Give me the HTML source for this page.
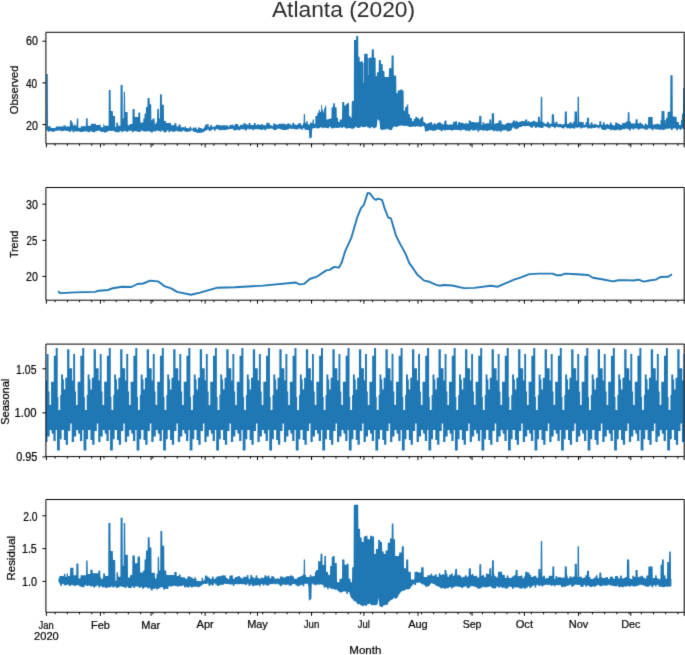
<!DOCTYPE html><html><head><meta charset="utf-8"><style>html,body{margin:0;padding:0;background:#fff;}svg{display:block}text{font-family:"Liberation Sans",sans-serif;fill:#000}.tx{opacity:0.999;will-change:opacity}.tx text{stroke:#000;stroke-width:0.22px}</style></head><body>
<svg width="685" height="655" viewBox="0 0 685 655">
<defs>
<filter id="bl" color-interpolation-filters="sRGB" filterUnits="userSpaceOnUse" x="0" y="0" width="685" height="655"><feConvolveMatrix order="3" kernelMatrix="0.0113 0.0835 0.0113 0.0835 0.619 0.0835 0.0113 0.0835 0.0113" edgeMode="duplicate"/></filter>
<clipPath id="c0"><rect x="45.9" y="32.3" width="638.3" height="111.5"/></clipPath>
<clipPath id="c1"><rect x="45.9" y="187.5" width="638.3" height="112.7"/></clipPath>
<clipPath id="c2"><rect x="45.9" y="344.1" width="638.3" height="112.5"/></clipPath>
<clipPath id="c3"><rect x="45.9" y="499.5" width="638.3" height="112.8"/></clipPath>
</defs>
<g filter="url(#bl)">
<rect width="685" height="655" fill="#fff"/>
<g clip-path="url(#c0)">
<polygon points="46.4,73.9 47.8,73.9 48,126.2 50.6,126.2 50.8,128 55.6,128 55.8,126.5 63.2,126.5 63.4,125.36 63.8,125.36 64,127.95 64.2,125.3 65.6,125.3 65.8,126.6 69.8,126.6 70,120.3 71.6,120.3 71.8,122.4 72.8,122.4 73,125.8 74,125.8 74.2,124.5 75.4,124.5 75.6,125.8 76.6,125.8 76.8,118.6 78.2,118.6 78.4,127.8 80.8,127.8 81,126.2 85.8,126.2 86,118.2 87.6,118.2 87.8,125.8 90.8,125.8 91,123.7 95.8,123.7 96,124.9 99.8,124.9 100,124.5 100.6,124.5 100.8,127.3 103.2,127.3 103.4,123.7 104,123.7 104.2,125.8 108.6,125.8 108.8,90.1 110.6,90.1 110.8,111.1 112.8,111.1 113,116.1 115,116.1 115.2,127 116.2,127 116.4,122.4 118,122.4 118.2,125.8 120.4,125.8 120.6,85 122.6,85 122.8,118.6 123.6,118.6 123.8,91.8 125,91.8 125.2,111.9 127.6,111.9 127.8,125.3 129.6,125.3 129.8,124 132.4,124 132.6,109 134.6,109 134.8,117 138.2,117 138.4,112.5 140.2,112.5 140.4,122.4 143.2,122.4 143.4,118.6 144.4,118.6 144.6,113.6 145.8,113.6 146,106.9 147.4,106.9 147.6,98.1 149.6,98.1 149.8,104.3 151.2,104.3 151.4,120.3 152.4,120.3 152.6,118.6 154.6,118.6 154.8,123.7 156.2,123.7 156.4,122 157,122 157.2,109 158.8,109 159,118.6 159.8,118.6 160,94.3 161.8,94.3 162,104.8 163.8,104.8 164,121.1 165.8,121.1 166,123 171,123 171.2,125.3 174.2,125.3 174.4,123.2 176.4,123.2 176.6,126.6 178.4,126.6 178.6,124.5 180.6,124.5 180.8,127.2 184.8,127.2 185,126.13 185.8,126.13 186,128 187.6,128 187.8,128.33 189.4,128.33 189.6,126.72 191,126.72 191.2,128.39 192,128.39 192.2,128.59 192.4,128.79 192.6,128.99 192.8,129.19 193,127.05 193.2,127.25 193.4,127.45 193.6,127.65 193.8,127.85 194,128.05 194.6,128.09 194.8,127.31 196.4,127.4 196.6,129.18 198,129.26 198.2,127.34 199.8,127.43 200,128 201.6,128.09 201.8,128.82 203,128.89 203.2,128.56 203.4,128.23 203.6,128.59 203.8,128.26 204,127.93 204.2,127.6 204.4,127.27 204.6,126.94 204.8,126.61 205,126.28 205.2,124.72 206.8,124.61 207,124.2 208.6,124.09 208.8,126.88 210.2,126.79 210.4,124.89 212,124.78 212.2,126.96 213.8,126.84 214,126.62 215.6,126.54 215.8,124.77 217.2,124.74 217.4,125.02 219,124.99 219.2,125.18 220.8,125.15 221,125.57 222.4,125.54 222.6,125.37 224.2,125.34 224.4,125.21 226,125.18 226.2,125.38 227.8,125.35 228,126.44 229.4,126.41 229.6,124.93 231.2,124.9 231.4,124.64 233,124.61 233.2,125.59 234.8,125.55 235,123.91 236.4,123.88 236.6,124.09 238.2,124.06 238.4,126.36 240,126.32 240.2,124.77 241.6,124.74 241.8,124.83 243.4,124.8 243.6,122.97 245.2,122.93 245.4,124.3 247,124.27 247.2,124.83 248.6,124.8 248.8,122.89 250.4,122.87 250.6,124.89 252.2,124.88 252.4,124.94 253.8,124.93 254,122.98 255.6,122.97 255.8,124.9 257.4,124.89 257.6,124.34 259.2,124.33 259.4,125.05 260.8,125.04 261,123.93 262.6,123.92 262.8,125.13 264.4,125.12 264.6,125.22 266.2,125.21 266.4,122.78 267.8,122.77 268,122.9 269.6,122.89 269.8,124.98 271.4,124.97 271.6,125.95 273,125.94 273.2,123.51 274.8,123.51 275,124.2 276.6,124.19 276.8,124.65 278.4,124.64 278.6,123.72 280,123.71 280.2,123.86 281.8,123.85 282,123.67 283.6,123.66 283.8,123.85 285.2,123.84 285.4,124.61 287,124.6 287.2,123.6 288.8,123.59 289,123.85 290.6,123.84 290.8,125.18 292.2,125.17 292.4,122.64 294,122.63 294.2,124.47 295.8,124.46 296,125.02 297.6,125.01 297.8,123.57 299.2,123.56 299.4,123.26 301,123.22 301.2,125.19 302.8,125.13 303,123.2 303.6,123.18 303.8,113.9 305,113.9 305.2,122.95 306.2,122.92 306.4,121 307.6,121 307.8,123.7 308,123.69 308.2,124.58 309.8,124.52 310,122.49 311.4,122.44 311.6,123.18 312.4,123.15 312.6,119.5 313.8,119.5 314,124 315.2,124 315.4,116 317.2,116 317.4,113 318.6,113 318.8,109.8 319.8,109.8 320,112 321,112 321.2,105.1 322,105.1 322.2,110 323.2,110 323.4,112.5 324,112.5 324.2,108 325,108 325.2,105.8 326.2,105.8 326.4,119.5 328,119.5 328.2,119 329.8,119 330,118.6 331.4,118.6 331.6,107.2 333,107.2 333.2,103.3 334.8,103.3 335,107.2 336.6,107.2 336.8,117.7 338,117.7 338.2,122.1 339.6,122.1 339.8,119.5 342,119.5 342.2,102 342.8,102 343,101.9 344.2,101.9 344.4,105.4 346,105.4 346.2,103.7 347.6,103.7 347.8,102.8 349,102.8 349.2,116 350.4,116 350.6,117.7 351.6,117.7 351.8,101 353.8,101 354,40 356,40 356.2,36 358.2,36 358.4,56.8 359.6,56.8 359.8,62 360.8,62 361,61.2 362.6,61.2 362.8,63 364,63 364.2,53.7 367.6,53.7 367.8,58 368.8,58 369,57.7 371.6,57.7 371.8,49.3 373.8,49.3 374,57.7 375.6,57.7 375.8,76.2 376.8,76.2 377,72.3 378.6,72.3 378.8,59.9 380.8,59.9 381,63.9 382.6,63.9 382.8,70.9 384.4,70.9 384.6,77.1 388.8,77.1 389,68.3 391.4,68.3 391.6,55.5 393.6,55.5 393.8,75.4 395.8,75.4 396,76.5 396.2,76.5 396.4,93.2 397.6,93.2 397.8,90.5 399.2,90.5 399.4,90 400.6,90 400.8,89.6 402.2,89.6 402.4,90.5 403.6,90.5 403.8,110.7 405,110.7 405.2,107 406.6,107 406.8,104.6 408.2,104.6 408.4,114.2 410,114.2 410.2,118 411.8,118 412,121.2 413.6,121.2 413.8,119 415.2,119 415.4,116.8 417,116.8 417.2,118 418.8,118 419,119.5 420.2,119.5 420.4,118 421.6,118 421.8,116.8 423.2,116.8 423.4,122.1 424.8,122.1 425,123 426,123 426.2,123.9 427.6,123.9 427.8,123 429.2,123 429.4,122.5 431,122.5 431.2,122.1 432,122.1 432.2,124.43 433.6,124.45 433.8,123.14 435.4,123.16 435.6,124.2 437,124.21 437.2,122.75 438.8,122.77 439,122.24 440.6,122.26 440.8,123.41 442.4,123.43 442.6,124.39 444,124.4 444.2,122.21 444.4,122.21 444.6,120.4 446.4,120.4 446.6,124.34 447.6,124.35 447.8,124.8 449.2,124.81 449.4,124.42 451,124.44 451.2,124.5 452.8,124.52 453,121.74 454.6,121.76 454.8,123.87 455,121.2 457,121.2 457.2,124.7 458,124.7 458.2,121.94 459.8,121.96 460,122.71 463.2,122.74 463.4,123.62 465,123.64 465.2,123.28 466.8,123.3 467,123.47 468.4,123.49 468.6,124.52 468.8,120.4 470.8,120.4 471,121.91 472,121.92 472.2,122.11 473.8,122.12 474,122.37 477.2,122.39 477.4,122.21 479,122.22 479.2,116 481.4,116 481.6,124.93 482.4,124.94 482.6,122.33 484.2,122.36 484.4,123.78 486,123.8 486.2,123.17 489.2,123.22 489.4,119.5 491.2,119.5 491.4,124.38 491.6,124.39 491.8,113.3 494,113.3 494.2,124.22 494.6,124.23 494.8,123.47 496.4,123.49 496.6,122.92 498.2,122.94 498.4,123.41 498.6,120.4 501.4,120.4 501.6,122.77 501.8,124.24 503.4,124.27 503.6,124.82 505.2,124.84 505.4,123.7 506.8,123.73 507,122.71 508.6,122.73 508.8,123.07 510.4,123.1 510.6,123.76 511,123.77 511.2,123.47 511.4,123.17 511.6,122.87 511.8,122.57 512,122.27 512.2,122.76 512.4,122.46 512.6,122.16 512.8,121.86 513,120.4 515,120.4 515.2,122.2 515.6,122.21 515.8,120.84 517.4,120.87 517.6,122.31 519,122.34 519.2,121.73 520.8,121.76 521,121.12 522.6,121.15 522.8,120.95 524.2,120.97 524.4,121.4 525,121.41 525.2,119.5 527.2,119.5 527.4,122.16 527.8,122.16 528,121.21 529.6,121.24 529.8,122.17 531.2,122.2 531.4,121.41 533,121.44 533.2,120.71 534.8,120.74 535,121.73 536.6,121.76 536.8,122.3 537.8,122.32 538,116.8 539.8,116.8 540,120.24 540.2,121.46 540.6,121.49 540.8,96.7 542.2,96.7 542.4,121.63 543.4,121.7 543.6,123.26 545.2,123.38 545.4,123.59 547,123.71 547.2,121.81 548.8,121.93 549,123.73 550.4,123.83 550.6,123.48 551.6,123.56 551.8,114.2 554,114.2 554.2,122.64 555.6,122.75 555.8,121.6 557.4,121.72 557.6,124.08 559.2,124.2 559.4,123.71 561,123.76 561.2,124.53 562.6,124.54 562.8,124.22 564.4,124.23 564.6,123.8 564.8,111.6 566.8,111.6 567,124.05 568,124.05 568.2,123.48 569.6,123.49 569.8,121.92 571.4,121.94 571.6,123.59 573.2,123.6 573.4,121.62 574.4,121.62 574.6,111.6 577,111.6 577.2,124.26 577.4,124.26 577.6,96.7 579,96.7 579.2,121.79 580.2,121.8 580.4,121.97 583.6,122.01 583.8,124.67 585.4,124.68 585.6,122.3 586.8,122.31 587,117.7 589,117.7 589.2,124.58 590.6,124.59 590.8,122.14 592.4,122.16 592.6,124.61 594,124.62 594.2,124.05 595.8,124.06 596,124.61 597.6,124.63 597.8,125.02 599.2,125.03 599.4,121.2 601.2,121.2 601.4,124.63 602.8,124.74 603,122.16 604.6,122.29 604.8,124.79 606.2,124.81 606.4,123.94 608,123.94 608.2,124.63 609.8,124.63 610,122.56 611.6,122.56 611.8,124.75 613.2,124.75 613.4,125.38 615,125.38 615.2,122.41 616.8,122.41 617,123.3 618.4,123.3 618.6,124.12 620.2,124.12 620.4,125.02 622,125.02 622.2,123.02 623.8,123.02 624,122.81 625.4,122.81 625.6,123.05 625.8,123.05 626,121.6 627.6,121.6 627.8,112.3 629.4,112.3 629.6,121.6 630.8,121.6 631,123.54 632.4,123.54 632.6,123.45 634.2,123.45 634.4,123.55 635.4,123.55 635.6,119.6 635.8,119.6 636,119.3 637.6,119.3 637.8,123.62 639.4,123.62 639.6,122.48 641.2,122.48 641.4,123.9 643,123.9 643.2,125.51 644.6,125.51 644.8,123.6 646.4,123.6 646.6,124.74 648,124.74 648.2,117 652.6,117 652.8,124.77 653.4,124.77 653.6,124.49 655.2,124.49 655.4,123.96 656.8,123.96 657,123.84 658.6,123.84 658.8,124.39 660.4,124.39 660.6,119.9 661.4,119.9 661.6,111 664.4,111 664.6,119.9 665.6,119.9 665.8,124.74 666,118 667.4,118 667.6,111.7 670.2,111.7 670.4,75.3 672.6,75.3 672.8,116.4 674.8,116.4 675,117 676.6,117 676.8,122 678.8,122 679,125 680.8,125 681,120 681.8,120 682,113.4 683,113.4 683.2,88 684.6,88 684.8,122.99 684.8,129.18 683.2,129.19 683,128.39 681.4,128.4 681.2,130.09 679.8,130.1 679.6,128.64 678,128.65 677.8,130.26 676.2,130.26 676,128.29 674.6,128.29 674.4,128.48 672.8,128.48 672.6,129.98 671,129.99 670.8,128.42 669.2,128.43 669,128.63 665.8,128.67 665.6,129.4 664,129.4 663.8,129.94 662.4,129.94 662.2,129.55 660.6,129.56 660.4,129.93 658.8,129.94 658.6,129.18 657,129.18 656.8,129.49 655.4,129.49 655.2,128.77 653.6,128.78 653.4,130.35 651.8,130.35 651.6,128.81 650,128.81 649.8,128.35 648.4,128.36 648.2,129.56 646.6,129.57 646.4,129.69 644.8,129.7 644.6,128.67 643.2,128.67 643,128.46 641.4,128.46 641.2,128.87 639.6,128.87 639.4,129.73 637.8,129.74 637.6,128.54 636.2,128.55 636,128.61 634.4,128.62 634.2,129.58 632.6,129.59 632.4,128.61 631,128.62 630.8,130.4 629.2,130.41 629,129.24 627.4,129.25 627.2,128.56 625.6,128.57 625.4,129.19 624,129.2 623.8,129.12 622.2,129.13 622,129.97 620.4,129.97 620.2,130.32 618.6,130.32 618.4,129.39 617,129.39 616.8,130.28 613.4,130.3 613.2,129.81 611.8,129.81 611.6,130.24 610,130.24 609.8,128.97 608.2,128.98 608,128.68 606.4,128.69 606.2,129.91 604.8,129.91 604.6,130.08 603,130.09 602.8,129.48 602,129.48 601.8,129.33 601.6,129.18 601.4,129.03 601.2,128.88 601,127.8 600.8,127.65 600.6,127.5 600.4,127.35 600.2,127.2 600,127.05 599.6,127.04 599.4,128.49 597.8,128.47 597.6,127.3 596,127.28 595.8,127.98 594.2,127.96 594,127.75 592.6,127.74 592.4,128.42 590.8,128.4 590.6,128.18 589,128.16 588.8,128.4 587.2,128.39 587,127.23 585.6,127.21 585.4,127.42 583.8,127.4 583.6,127.85 582,127.83 581.8,128.45 580.4,128.44 580.2,127.28 578.6,127.27 578.4,127.65 576.8,127.64 576.6,127.53 575,127.51 574.8,128.69 573.4,128.67 573.2,127.89 571.6,127.88 571.4,128.47 569.8,128.45 569.6,128.24 566.4,128.22 566.2,127.03 564.6,127.01 564.4,128.59 562.8,128.58 562.6,128.05 561.2,128.04 561,127.31 559.4,127.28 559.2,127.39 557.6,127.33 557.4,126.75 555.8,126.69 555.6,128.23 554.2,128.18 554,127.01 552.4,126.95 552.2,126.51 550.6,126.46 550.4,128.25 549,128.2 548.8,127.48 547.2,127.43 547,126.78 545.4,126.73 545.2,126.15 543.6,126.1 543.4,127.99 542,127.94 541.8,127.89 540.2,127.83 540,127.59 538.4,127.59 538.2,126.9 536.8,126.9 536.6,127.95 535,127.95 534.8,126.32 533.2,126.32 533,127.79 531.4,127.79 531.2,127.27 529.8,127.27 529.6,126.01 526.2,125.98 526,126.26 524.4,126.26 524.2,126.09 523,126.09 522.8,126.21 522.6,126.2 522.4,126.32 522.2,126.44 522,126.56 521.8,126.68 521.6,126.8 521.4,126.92 521.2,127.04 521,127.16 520.8,127.11 519.2,127.11 519,128.34 517.6,128.34 517.4,129.14 515.8,129.14 515.6,128.53 514,128.53 513.8,127.3 513,127.3 512.8,127.57 512.6,127.84 512.4,128.11 512.2,128.38 512,129.17 511.8,129.44 511.6,129.71 511.4,129.98 511.2,130.25 511,130.52 510.6,130.52 510.4,131.12 508.8,131.12 508.6,131.51 507,131.51 506.8,130.36 503.6,130.32 503.4,130.43 501.8,130.43 501.6,131.76 500,131.76 499.8,130.78 498.4,130.78 498.2,131.45 496.6,131.45 496.4,130.38 494.8,130.38 494.6,131.33 493,131.33 492.8,129.91 491.4,129.91 491.2,130.06 489.6,130.06 489.4,130.53 487.8,130.53 487.6,131.11 486.2,131.11 486,130.15 484.4,130.15 484.2,130.8 482.6,130.8 482.4,130 480.8,130 480.6,130.26 479.2,130.26 479,131.82 477.4,131.81 477.2,129.84 475.6,129.83 475.4,130.61 472.2,130.6 472,129.86 470.4,129.85 470.2,131.22 468.6,131.22 468.4,130.59 467,130.59 466.8,130.67 465.2,130.66 465,129.77 463.4,129.76 463.2,129.83 461.6,129.83 461.4,130.73 460,130.72 459.8,130.04 458.2,130.03 458,129.91 456.4,129.9 456.2,129.73 454.8,129.72 454.6,130.01 453,130.01 452.8,130.5 451.2,130.49 451,130 449.4,129.99 449.2,130.07 446,130.02 445.8,130.58 444.2,130.57 444,129.9 442.6,129.9 442.4,131.24 440.8,131.23 440.6,130.02 439,130.02 438.8,129.58 437.2,129.57 437,130.04 435.6,130.03 435.4,130.81 433.8,130.8 433.6,130.66 432,130.65 431.8,130.32 428.6,130.29 428.4,131.03 426.8,131.02 426.6,131.4 425,131.39 424.8,129.08 424.6,128.28 424.4,127.48 424.2,126.68 424,125.88 423.4,125.88 423.2,126.34 421.6,126.34 421.4,127.09 419.8,127.09 419.6,126.48 418,126.48 417.8,126.14 416.4,126.14 416.2,126.86 414.6,126.86 414.4,126.39 412.8,126.39 412.6,126.63 411.2,126.63 411,126.97 409.4,126.97 409.2,126.54 407.6,126.54 407.4,125.84 405.8,125.84 405.6,125.92 404.2,125.92 404,125.66 402.4,125.66 402.2,125.59 400.6,125.59 400.4,125.73 398.8,125.73 398.6,126.52 397.2,126.52 397,127.09 395.4,127.09 395.2,126.42 393.6,126.42 393.4,127.31 393,127.31 392.8,127.81 392.6,128.31 392.4,128.81 392.2,129.31 392,129.81 391.8,129.96 390.2,129.96 390,129.69 388.4,129.69 388.2,128.72 386.6,128.72 386.4,129.55 383.2,129.5 383,129.95 381.4,129.95 381.2,129.26 380.2,129.26 380,126.89 379.8,124.51 379.6,122.14 379.4,120.3 378,120.3 377.8,118.78 377.6,118.78 377.4,120.76 377.2,122.73 377,124.71 376.8,126.68 376.2,126.68 376,127.86 374.4,127.86 374.2,128.23 372.8,128.23 372.6,127.08 371,127.08 370.8,128.35 369.2,128.35 369,127.53 367.4,127.53 367.2,126.56 365.8,126.56 365.6,126.89 364,126.89 363.8,127.16 362.2,127.16 362,126.51 360.6,126.51 360.4,127.71 358.8,127.71 358.6,128.06 357,128.06 356.8,126.68 355.2,126.68 355,128.27 353.6,128.27 353.4,128.41 353,128.41 352.8,128.57 352.6,128.73 352.4,128.89 352.2,129.05 352,129.21 351.8,129.21 351.6,128.38 350,128.34 349.8,128.08 348.2,128.05 348,128.47 346.6,128.44 346.4,128.13 344.8,128.09 344.6,127.11 343,127.08 342.8,128.11 341.4,128.08 341.2,127.37 339.6,127.33 339.4,127.89 337.8,127.85 337.6,127.98 336,127.94 335.8,127.87 334.4,127.84 334.2,128.19 332.6,128.16 332.4,128.38 330.8,128.35 330.6,126.73 329.2,126.7 329,128.22 327.4,128.18 327.2,127.91 325.6,127.88 325.4,127.63 323.8,127.59 323.6,128.37 322.2,128.34 322,127.16 320.4,127.13 320.2,127.94 318.6,127.9 318.4,128.5 316.8,128.47 316.6,127.74 316,127.73 315.8,127.79 315.6,127.84 315.4,127.9 315.2,127.96 315,127.91 314.8,127.96 314.6,128.02 314.4,128.08 314.2,128.13 314,128.19 313.8,128.24 313.6,128.3 313.4,128.36 313.2,128.35 313,128.41 312.8,128.46 312.6,128.52 312.4,128.58 312.2,128.63 312,131.79 311.8,138.06 311.6,138.06 311.4,137.7 310,137.7 309.8,138.89 309.4,138.89 309.2,135.93 309,129.99 308.2,130.01 308,129.89 306.4,129.93 306.2,129.75 304.6,129.78 304.4,128.17 303,128.2 302.8,129.78 301.2,129.81 301,128.7 299.4,128.73 299.2,128.63 297.8,128.64 297.6,129.41 296,129.42 295.8,129.34 294.2,129.35 294,128.65 292.4,128.66 292.2,129.09 290.8,129.1 290.6,128.57 289,128.59 288.8,129.52 287.2,129.53 287,129.86 285.4,129.88 285.2,130.02 283.8,130.03 283.6,129.88 282,129.89 281.8,129.2 280.2,129.21 280,128.74 276.8,128.75 276.6,129.89 275,129.9 274.8,130.01 273.2,130.03 273,128.63 269.8,128.62 269.6,128.98 268,128.99 267.8,128.66 266.4,128.67 266.2,130.22 264.6,130.23 264.4,129.19 262.8,129.2 262.6,130.08 261,130.1 260.8,129.61 259.4,129.62 259.2,129.34 257.6,129.35 257.4,129.2 254,129.27 253.8,130.14 252.4,130.15 252.2,129.06 250.6,129.07 250.4,129.61 248.8,129.62 248.6,128.65 247.2,128.66 247,130.41 245.4,130.42 245.2,129.39 243.6,129.4 243.4,129.16 241.8,129.17 241.6,129.37 240.2,129.38 240,130.18 238.4,130.19 238.2,129.78 236.6,129.79 236.4,130.23 235,130.24 234.8,130.16 233.2,130.17 233,128.82 231.4,128.83 231.2,129.06 229.6,129.07 229.4,129.35 228,129.36 227.8,129.67 226.2,129.68 226,130.08 224.4,130.09 224.2,129.9 222.6,129.91 222.4,130 221,130.01 220.8,130.27 219.2,130.28 219,129.47 217.4,129.48 217.2,129.08 215.8,129.09 215.6,130.75 214,130.82 213.8,129.13 212.2,129.23 212,130.36 210.4,130.45 210.2,130.96 208.8,131.04 208.6,129.56 207,129.66 206.8,130.62 205,130.76 204.8,131 204.6,131.24 204.4,131.48 204.2,131.72 204,131.96 203.8,132.2 203.6,132.44 203.4,131.7 203.2,131.94 203,132.18 201.8,132.09 201.6,132.88 200,132.76 199.8,132.98 198.2,132.86 198,132.93 196.6,132.83 196.4,132.04 195,131.94 194.8,131.86 194.6,132.08 194.4,132 194.2,131.92 194,131.84 193.8,131.76 193.6,131.68 193.4,131.6 193.2,131.52 193,131.44 192.8,130.56 192.6,130.48 192.4,130.4 192.2,130.32 192,130.24 191.2,130.24 191,131.13 189.6,131.13 189.4,131.41 187.8,131.41 187.6,132.02 186,132.02 185.8,131.58 184.4,131.59 184.2,130.57 182.6,130.59 182.4,131.73 180.8,131.75 180.6,131.43 177.4,131.51 177.2,130.72 175.6,130.74 175.4,131.71 172.2,131.78 172,130.95 170.4,130.97 170.2,132.16 168.6,132.18 168.4,130.41 166.8,130.43 166.6,132.14 163.4,132.13 163.2,130.51 161.6,130.53 161.4,131.69 159.8,131.71 159.6,130.89 158.2,130.91 158,130.59 156.4,130.61 156.2,131.5 154.6,131.52 154.4,131.2 153,131.22 152.8,132.41 151.2,132.43 151,131.65 149.4,131.67 149.2,130.89 147.6,130.91 147.4,131.49 146,131.51 145.8,131.41 144.2,131.41 144,131.2 142.4,131.2 142.2,130.51 140.8,130.5 140.6,131.91 139,131.9 138.8,131.7 137.2,131.69 137,131.22 135.4,131.22 135.2,131.08 133.8,131.08 133.6,132.22 132,132.21 131.8,130.65 128.4,130.63 128.2,131.98 126.8,131.98 126.6,131.33 125,131.33 124.8,131.1 123.2,131.09 123,132.25 121.6,132.25 121.4,130.96 119.8,130.96 119.6,132.31 118,132.31 117.8,132.22 116.2,132.22 116,131.89 114.6,131.89 114.4,130.8 112.8,130.8 112.6,130.94 111,130.94 110.8,130.79 109.4,130.79 109.2,130.9 107.6,130.89 107.4,132.18 105.8,132.17 105.6,132.39 104,132.39 103.8,131.79 102.4,131.79 102.2,131.88 100.6,131.87 100.4,130.86 97,130.84 96.8,131.33 95.4,131.33 95.2,132.37 93.6,132.36 93.4,131.88 91.8,131.88 91.6,131.18 90.2,131.17 90,132.13 88.4,132.13 88.2,131.84 86.6,131.84 86.4,131.33 84.8,131.33 84.6,131.49 83.2,131.48 83,132.04 79.6,132.05 79.4,131.28 78,131.28 77.8,131.55 76.2,131.55 76,131.3 74.4,131.29 74.2,132.37 72.6,132.36 72.4,130.58 71,130.58 70.8,131.9 69.2,131.9 69,130.95 67.4,130.94 67.2,131.02 65.6,131.02 65.4,130.62 64,130.62 63.8,131.06 62.2,131.05 62,131.25 60.4,131.25 60.2,130.29 58.8,130.29 58.6,130.69 57,130.69 56.8,130.79 55.2,130.79 55,131.45 53.4,131.45 53.2,132.01 51.8,132.01 51.6,131.08 50,131.08 49.8,131.69 48.2,131.69 48,130.83 46.4,130.82" fill="#1f77b4"/><rect x="363" y="61" width="1" height="22" fill="#fff" opacity="0.45"/><rect x="367.9" y="58" width="0.9" height="17" fill="#fff" opacity="0.4"/>
</g>
<path d="M45.9 32.3H684.2V143.8H45.9Z" fill="none" stroke="#000" stroke-width="1"/>
<path d="M46.4 143.8v3.5M100.48 143.8v3.5M151.07 143.8v3.5M205.15 143.8v3.5M257.48 143.8v3.5M311.56 143.8v3.5M363.9 143.8v3.5M417.98 143.8v3.5M472.06 143.8v3.5M524.39 143.8v3.5M578.47 143.8v3.5M630.81 143.8v3.5M684.2 143.8v3.5M55.12 143.8v2M67.33 143.8v2M79.55 143.8v2M91.76 143.8v2M103.97 143.8v2M116.18 143.8v2M128.39 143.8v2M140.6 143.8v2M152.81 143.8v2M165.03 143.8v2M177.24 143.8v2M189.45 143.8v2M201.66 143.8v2M213.87 143.8v2M226.08 143.8v2M238.29 143.8v2M250.51 143.8v2M262.72 143.8v2M274.93 143.8v2M287.14 143.8v2M299.35 143.8v2M311.56 143.8v2M323.78 143.8v2M335.99 143.8v2M348.2 143.8v2M360.41 143.8v2M372.62 143.8v2M384.83 143.8v2M397.04 143.8v2M409.26 143.8v2M421.47 143.8v2M433.68 143.8v2M445.89 143.8v2M458.1 143.8v2M470.31 143.8v2M482.52 143.8v2M494.74 143.8v2M506.95 143.8v2M519.16 143.8v2M531.37 143.8v2M543.58 143.8v2M555.79 143.8v2M568.01 143.8v2M580.22 143.8v2M592.43 143.8v2M604.64 143.8v2M616.85 143.8v2M629.06 143.8v2M641.27 143.8v2M653.49 143.8v2M665.7 143.8v2M677.91 143.8v2" stroke="#000" stroke-width="1" fill="none"/>
<g clip-path="url(#c1)">
<polyline points="58.6,291.7 60.2,293.1 75.4,292.4 95.2,291.9 98.7,290.7 108.1,290 112.8,288.2 122.1,286.8 131.4,287 137.3,284 143.1,283.5 150.1,280.7 158.3,281.4 164.2,286.1 171.2,288.4 177,291.9 191,294.7 200,292.6 217.5,287.7 235,287.2 263.1,285.6 295.8,282.5 299.3,284.4 304,283.9 309.8,279 316.8,276.7 326.2,270.4 329.7,269.9 334.3,266.9 339,267.6 341.8,262.2 345.3,250.8 351.4,237.6 357.5,216.6 361.1,207.8 363.7,205.2 367.7,192.9 369.8,193.4 374.2,199 376,199.9 377.7,198.7 382.1,199.9 384.7,208.7 388.2,217.5 390.9,218.3 396.1,235.9 400.5,244.6 405.8,254.3 409.3,263.1 411.9,266.6 417.2,274.5 424.2,280.6 429.5,281.8 435.6,284.6 439.3,285.7 444,285 452.2,285.5 463.9,288.1 474.4,287.9 490.7,285.7 497.8,286.7 507.1,282.7 514.1,279.7 521.1,277.3 529.3,274.1 539.8,273.6 552.7,273.6 556.2,275.2 560.8,275.2 565.5,273.6 576.4,274.3 588.3,275 592.8,277.7 602,279.2 612.9,281.4 618.4,280.3 625.7,280.1 633,280.5 638.5,279.7 643.9,281.6 649.4,280.5 655.8,279.6 660.4,277 667.7,276.8 670.4,275.5 671.3,274.6" fill="none" stroke="#1f77b4" stroke-width="1.9" stroke-linejoin="round" stroke-linecap="round"/>
</g>
<path d="M45.9 187.5H684.2V300.2H45.9Z" fill="none" stroke="#000" stroke-width="1"/>
<path d="M46.4 300.2v3.5M100.48 300.2v3.5M151.07 300.2v3.5M205.15 300.2v3.5M257.48 300.2v3.5M311.56 300.2v3.5M363.9 300.2v3.5M417.98 300.2v3.5M472.06 300.2v3.5M524.39 300.2v3.5M578.47 300.2v3.5M630.81 300.2v3.5M684.2 300.2v3.5M55.12 300.2v2M67.33 300.2v2M79.55 300.2v2M91.76 300.2v2M103.97 300.2v2M116.18 300.2v2M128.39 300.2v2M140.6 300.2v2M152.81 300.2v2M165.03 300.2v2M177.24 300.2v2M189.45 300.2v2M201.66 300.2v2M213.87 300.2v2M226.08 300.2v2M238.29 300.2v2M250.51 300.2v2M262.72 300.2v2M274.93 300.2v2M287.14 300.2v2M299.35 300.2v2M311.56 300.2v2M323.78 300.2v2M335.99 300.2v2M348.2 300.2v2M360.41 300.2v2M372.62 300.2v2M384.83 300.2v2M397.04 300.2v2M409.26 300.2v2M421.47 300.2v2M433.68 300.2v2M445.89 300.2v2M458.1 300.2v2M470.31 300.2v2M482.52 300.2v2M494.74 300.2v2M506.95 300.2v2M519.16 300.2v2M531.37 300.2v2M543.58 300.2v2M555.79 300.2v2M568.01 300.2v2M580.22 300.2v2M592.43 300.2v2M604.64 300.2v2M616.85 300.2v2M629.06 300.2v2M641.27 300.2v2M653.49 300.2v2M665.7 300.2v2M677.91 300.2v2" stroke="#000" stroke-width="1" fill="none"/>
<g clip-path="url(#c2)">
<polygon points="-1.06,381.8 0.74,381.8 0.74,355.7 2.64,355.7 2.64,348 4.64,348 4.64,397 5.34,397 5.34,410 7.14,410 7.14,395 8.04,395 8.04,374.5 9.94,374.5 9.94,379.5 10.84,379.5 10.84,389.6 12.24,389.6 12.24,377.7 14.04,377.7 14.04,349.3 16.34,349.3 16.34,368.3 19.04,368.3 19.04,380.4 20.14,380.4 20.14,353.9 22.04,353.9 22.04,391.4 22.94,391.4 22.94,405 24.54,405 24.54,381.8 25.47,381.8 25.47,381.8 27.27,381.8 27.27,355.7 29.17,355.7 29.17,348 31.17,348 31.17,397 31.87,397 31.87,410 33.67,410 33.67,395 34.57,395 34.57,374.5 36.47,374.5 36.47,379.5 37.37,379.5 37.37,389.6 38.77,389.6 38.77,377.7 40.57,377.7 40.57,349.3 42.87,349.3 42.87,368.3 45.57,368.3 45.57,380.4 46.67,380.4 46.67,353.9 48.57,353.9 48.57,391.4 49.47,391.4 49.47,405 51.07,405 51.07,381.8 52,381.8 52,381.8 53.8,381.8 53.8,355.7 55.7,355.7 55.7,348 57.7,348 57.7,397 58.4,397 58.4,410 60.2,410 60.2,395 61.1,395 61.1,374.5 63,374.5 63,379.5 63.9,379.5 63.9,389.6 65.3,389.6 65.3,377.7 67.1,377.7 67.1,349.3 69.4,349.3 69.4,368.3 72.1,368.3 72.1,380.4 73.2,380.4 73.2,353.9 75.1,353.9 75.1,391.4 76,391.4 76,405 77.6,405 77.6,381.8 78.53,381.8 78.53,381.8 80.33,381.8 80.33,355.7 82.23,355.7 82.23,348 84.23,348 84.23,397 84.93,397 84.93,410 86.73,410 86.73,395 87.63,395 87.63,374.5 89.53,374.5 89.53,379.5 90.43,379.5 90.43,389.6 91.83,389.6 91.83,377.7 93.63,377.7 93.63,349.3 95.93,349.3 95.93,368.3 98.63,368.3 98.63,380.4 99.73,380.4 99.73,353.9 101.63,353.9 101.63,391.4 102.53,391.4 102.53,405 104.13,405 104.13,381.8 105.06,381.8 105.06,381.8 106.86,381.8 106.86,355.7 108.76,355.7 108.76,348 110.76,348 110.76,397 111.46,397 111.46,410 113.26,410 113.26,395 114.16,395 114.16,374.5 116.06,374.5 116.06,379.5 116.96,379.5 116.96,389.6 118.36,389.6 118.36,377.7 120.16,377.7 120.16,349.3 122.46,349.3 122.46,368.3 125.16,368.3 125.16,380.4 126.26,380.4 126.26,353.9 128.16,353.9 128.16,391.4 129.06,391.4 129.06,405 130.66,405 130.66,381.8 131.59,381.8 131.59,381.8 133.39,381.8 133.39,355.7 135.29,355.7 135.29,348 137.29,348 137.29,397 137.99,397 137.99,410 139.79,410 139.79,395 140.69,395 140.69,374.5 142.59,374.5 142.59,379.5 143.49,379.5 143.49,389.6 144.89,389.6 144.89,377.7 146.69,377.7 146.69,349.3 148.99,349.3 148.99,368.3 151.69,368.3 151.69,380.4 152.79,380.4 152.79,353.9 154.69,353.9 154.69,391.4 155.59,391.4 155.59,405 157.19,405 157.19,381.8 158.12,381.8 158.12,381.8 159.92,381.8 159.92,355.7 161.82,355.7 161.82,348 163.82,348 163.82,397 164.52,397 164.52,410 166.32,410 166.32,395 167.22,395 167.22,374.5 169.12,374.5 169.12,379.5 170.02,379.5 170.02,389.6 171.42,389.6 171.42,377.7 173.22,377.7 173.22,349.3 175.52,349.3 175.52,368.3 178.22,368.3 178.22,380.4 179.32,380.4 179.32,353.9 181.22,353.9 181.22,391.4 182.12,391.4 182.12,405 183.72,405 183.72,381.8 184.65,381.8 184.65,381.8 186.45,381.8 186.45,355.7 188.35,355.7 188.35,348 190.35,348 190.35,397 191.05,397 191.05,410 192.85,410 192.85,395 193.75,395 193.75,374.5 195.65,374.5 195.65,379.5 196.55,379.5 196.55,389.6 197.95,389.6 197.95,377.7 199.75,377.7 199.75,349.3 202.05,349.3 202.05,368.3 204.75,368.3 204.75,380.4 205.85,380.4 205.85,353.9 207.75,353.9 207.75,391.4 208.65,391.4 208.65,405 210.25,405 210.25,381.8 211.18,381.8 211.18,381.8 212.98,381.8 212.98,355.7 214.88,355.7 214.88,348 216.88,348 216.88,397 217.58,397 217.58,410 219.38,410 219.38,395 220.28,395 220.28,374.5 222.18,374.5 222.18,379.5 223.08,379.5 223.08,389.6 224.48,389.6 224.48,377.7 226.28,377.7 226.28,349.3 228.58,349.3 228.58,368.3 231.28,368.3 231.28,380.4 232.38,380.4 232.38,353.9 234.28,353.9 234.28,391.4 235.18,391.4 235.18,405 236.78,405 236.78,381.8 237.71,381.8 237.71,381.8 239.51,381.8 239.51,355.7 241.41,355.7 241.41,348 243.41,348 243.41,397 244.11,397 244.11,410 245.91,410 245.91,395 246.81,395 246.81,374.5 248.71,374.5 248.71,379.5 249.61,379.5 249.61,389.6 251.01,389.6 251.01,377.7 252.81,377.7 252.81,349.3 255.11,349.3 255.11,368.3 257.81,368.3 257.81,380.4 258.91,380.4 258.91,353.9 260.81,353.9 260.81,391.4 261.71,391.4 261.71,405 263.31,405 263.31,381.8 264.24,381.8 264.24,381.8 266.04,381.8 266.04,355.7 267.94,355.7 267.94,348 269.94,348 269.94,397 270.64,397 270.64,410 272.44,410 272.44,395 273.34,395 273.34,374.5 275.24,374.5 275.24,379.5 276.14,379.5 276.14,389.6 277.54,389.6 277.54,377.7 279.34,377.7 279.34,349.3 281.64,349.3 281.64,368.3 284.34,368.3 284.34,380.4 285.44,380.4 285.44,353.9 287.34,353.9 287.34,391.4 288.24,391.4 288.24,405 289.84,405 289.84,381.8 290.77,381.8 290.77,381.8 292.57,381.8 292.57,355.7 294.47,355.7 294.47,348 296.47,348 296.47,397 297.17,397 297.17,410 298.97,410 298.97,395 299.87,395 299.87,374.5 301.77,374.5 301.77,379.5 302.67,379.5 302.67,389.6 304.07,389.6 304.07,377.7 305.87,377.7 305.87,349.3 308.17,349.3 308.17,368.3 310.87,368.3 310.87,380.4 311.97,380.4 311.97,353.9 313.87,353.9 313.87,391.4 314.77,391.4 314.77,405 316.37,405 316.37,381.8 317.3,381.8 317.3,381.8 319.1,381.8 319.1,355.7 321,355.7 321,348 323,348 323,397 323.7,397 323.7,410 325.5,410 325.5,395 326.4,395 326.4,374.5 328.3,374.5 328.3,379.5 329.2,379.5 329.2,389.6 330.6,389.6 330.6,377.7 332.4,377.7 332.4,349.3 334.7,349.3 334.7,368.3 337.4,368.3 337.4,380.4 338.5,380.4 338.5,353.9 340.4,353.9 340.4,391.4 341.3,391.4 341.3,405 342.9,405 342.9,381.8 343.83,381.8 343.83,381.8 345.63,381.8 345.63,355.7 347.53,355.7 347.53,348 349.53,348 349.53,397 350.23,397 350.23,410 352.03,410 352.03,395 352.93,395 352.93,374.5 354.83,374.5 354.83,379.5 355.73,379.5 355.73,389.6 357.13,389.6 357.13,377.7 358.93,377.7 358.93,349.3 361.23,349.3 361.23,368.3 363.93,368.3 363.93,380.4 365.03,380.4 365.03,353.9 366.93,353.9 366.93,391.4 367.83,391.4 367.83,405 369.43,405 369.43,381.8 370.36,381.8 370.36,381.8 372.16,381.8 372.16,355.7 374.06,355.7 374.06,348 376.06,348 376.06,397 376.76,397 376.76,410 378.56,410 378.56,395 379.46,395 379.46,374.5 381.36,374.5 381.36,379.5 382.26,379.5 382.26,389.6 383.66,389.6 383.66,377.7 385.46,377.7 385.46,349.3 387.76,349.3 387.76,368.3 390.46,368.3 390.46,380.4 391.56,380.4 391.56,353.9 393.46,353.9 393.46,391.4 394.36,391.4 394.36,405 395.96,405 395.96,381.8 396.89,381.8 396.89,381.8 398.69,381.8 398.69,355.7 400.59,355.7 400.59,348 402.59,348 402.59,397 403.29,397 403.29,410 405.09,410 405.09,395 405.99,395 405.99,374.5 407.89,374.5 407.89,379.5 408.79,379.5 408.79,389.6 410.19,389.6 410.19,377.7 411.99,377.7 411.99,349.3 414.29,349.3 414.29,368.3 416.99,368.3 416.99,380.4 418.09,380.4 418.09,353.9 419.99,353.9 419.99,391.4 420.89,391.4 420.89,405 422.49,405 422.49,381.8 423.42,381.8 423.42,381.8 425.22,381.8 425.22,355.7 427.12,355.7 427.12,348 429.12,348 429.12,397 429.82,397 429.82,410 431.62,410 431.62,395 432.52,395 432.52,374.5 434.42,374.5 434.42,379.5 435.32,379.5 435.32,389.6 436.72,389.6 436.72,377.7 438.52,377.7 438.52,349.3 440.82,349.3 440.82,368.3 443.52,368.3 443.52,380.4 444.62,380.4 444.62,353.9 446.52,353.9 446.52,391.4 447.42,391.4 447.42,405 449.02,405 449.02,381.8 449.95,381.8 449.95,381.8 451.75,381.8 451.75,355.7 453.65,355.7 453.65,348 455.65,348 455.65,397 456.35,397 456.35,410 458.15,410 458.15,395 459.05,395 459.05,374.5 460.95,374.5 460.95,379.5 461.85,379.5 461.85,389.6 463.25,389.6 463.25,377.7 465.05,377.7 465.05,349.3 467.35,349.3 467.35,368.3 470.05,368.3 470.05,380.4 471.15,380.4 471.15,353.9 473.05,353.9 473.05,391.4 473.95,391.4 473.95,405 475.55,405 475.55,381.8 476.48,381.8 476.48,381.8 478.28,381.8 478.28,355.7 480.18,355.7 480.18,348 482.18,348 482.18,397 482.88,397 482.88,410 484.68,410 484.68,395 485.58,395 485.58,374.5 487.48,374.5 487.48,379.5 488.38,379.5 488.38,389.6 489.78,389.6 489.78,377.7 491.58,377.7 491.58,349.3 493.88,349.3 493.88,368.3 496.58,368.3 496.58,380.4 497.68,380.4 497.68,353.9 499.58,353.9 499.58,391.4 500.48,391.4 500.48,405 502.08,405 502.08,381.8 503.01,381.8 503.01,381.8 504.81,381.8 504.81,355.7 506.71,355.7 506.71,348 508.71,348 508.71,397 509.41,397 509.41,410 511.21,410 511.21,395 512.11,395 512.11,374.5 514.01,374.5 514.01,379.5 514.91,379.5 514.91,389.6 516.31,389.6 516.31,377.7 518.11,377.7 518.11,349.3 520.41,349.3 520.41,368.3 523.11,368.3 523.11,380.4 524.21,380.4 524.21,353.9 526.11,353.9 526.11,391.4 527.01,391.4 527.01,405 528.61,405 528.61,381.8 529.54,381.8 529.54,381.8 531.34,381.8 531.34,355.7 533.24,355.7 533.24,348 535.24,348 535.24,397 535.94,397 535.94,410 537.74,410 537.74,395 538.64,395 538.64,374.5 540.54,374.5 540.54,379.5 541.44,379.5 541.44,389.6 542.84,389.6 542.84,377.7 544.64,377.7 544.64,349.3 546.94,349.3 546.94,368.3 549.64,368.3 549.64,380.4 550.74,380.4 550.74,353.9 552.64,353.9 552.64,391.4 553.54,391.4 553.54,405 555.14,405 555.14,381.8 556.07,381.8 556.07,381.8 557.87,381.8 557.87,355.7 559.77,355.7 559.77,348 561.77,348 561.77,397 562.47,397 562.47,410 564.27,410 564.27,395 565.17,395 565.17,374.5 567.07,374.5 567.07,379.5 567.97,379.5 567.97,389.6 569.37,389.6 569.37,377.7 571.17,377.7 571.17,349.3 573.47,349.3 573.47,368.3 576.17,368.3 576.17,380.4 577.27,380.4 577.27,353.9 579.17,353.9 579.17,391.4 580.07,391.4 580.07,405 581.67,405 581.67,381.8 582.6,381.8 582.6,381.8 584.4,381.8 584.4,355.7 586.3,355.7 586.3,348 588.3,348 588.3,397 589,397 589,410 590.8,410 590.8,395 591.7,395 591.7,374.5 593.6,374.5 593.6,379.5 594.5,379.5 594.5,389.6 595.9,389.6 595.9,377.7 597.7,377.7 597.7,349.3 600,349.3 600,368.3 602.7,368.3 602.7,380.4 603.8,380.4 603.8,353.9 605.7,353.9 605.7,391.4 606.6,391.4 606.6,405 608.2,405 608.2,381.8 609.13,381.8 609.13,381.8 610.93,381.8 610.93,355.7 612.83,355.7 612.83,348 614.83,348 614.83,397 615.53,397 615.53,410 617.33,410 617.33,395 618.23,395 618.23,374.5 620.13,374.5 620.13,379.5 621.03,379.5 621.03,389.6 622.43,389.6 622.43,377.7 624.23,377.7 624.23,349.3 626.53,349.3 626.53,368.3 629.23,368.3 629.23,380.4 630.33,380.4 630.33,353.9 632.23,353.9 632.23,391.4 633.13,391.4 633.13,405 634.73,405 634.73,381.8 635.66,381.8 635.66,381.8 637.46,381.8 637.46,355.7 639.36,355.7 639.36,348 641.36,348 641.36,397 642.06,397 642.06,410 643.86,410 643.86,395 644.76,395 644.76,374.5 646.66,374.5 646.66,379.5 647.56,379.5 647.56,389.6 648.96,389.6 648.96,377.7 650.76,377.7 650.76,349.3 653.06,349.3 653.06,368.3 655.76,368.3 655.76,380.4 656.86,380.4 656.86,353.9 658.76,353.9 658.76,391.4 659.66,391.4 659.66,405 661.26,405 661.26,381.8 662.19,381.8 662.19,381.8 663.99,381.8 663.99,355.7 665.89,355.7 665.89,348 667.89,348 667.89,397 668.59,397 668.59,410 670.39,410 670.39,395 671.29,395 671.29,374.5 673.19,374.5 673.19,379.5 674.09,379.5 674.09,389.6 675.49,389.6 675.49,377.7 677.29,377.7 677.29,349.3 679.59,349.3 679.59,368.3 682.29,368.3 682.29,380.4 683.39,380.4 683.39,353.9 685.29,353.9 685.29,391.4 686.19,391.4 686.19,405 687.79,405 687.79,381.8 688.72,381.8 688.72,381.8 690.52,381.8 690.52,355.7 692.42,355.7 692.42,348 694.42,348 694.42,397 695.12,397 695.12,410 696.92,410 696.92,395 697.82,395 697.82,374.5 699.72,374.5 699.72,379.5 700.62,379.5 700.62,389.6 702.02,389.6 702.02,377.7 703.82,377.7 703.82,349.3 706.12,349.3 706.12,368.3 708.82,368.3 708.82,380.4 709.92,380.4 709.92,353.9 711.82,353.9 711.82,391.4 712.72,391.4 712.72,405 714.32,405 714.32,381.8 715.25,381.8 715.25,432.8 714.82,432.8 714.82,430 712.92,430 712.92,436.4 710.72,436.4 710.72,441.9 708.42,441.9 708.42,423.6 707.02,423.6 707.02,430.9 704.72,430.9 704.72,444.7 702.42,444.7 702.42,440.1 700.62,440.1 700.62,430 698.32,430 698.32,439.2 696.52,439.2 696.52,450.6 693.72,450.6 693.72,430 692.42,430 692.42,441 690.12,441 690.12,433.7 688.72,433.7 688.72,432.8 688.29,432.8 688.29,430 686.39,430 686.39,436.4 684.19,436.4 684.19,441.9 681.89,441.9 681.89,423.6 680.49,423.6 680.49,430.9 678.19,430.9 678.19,444.7 675.89,444.7 675.89,440.1 674.09,440.1 674.09,430 671.79,430 671.79,439.2 669.99,439.2 669.99,450.6 667.19,450.6 667.19,430 665.89,430 665.89,441 663.59,441 663.59,433.7 662.19,433.7 662.19,432.8 661.76,432.8 661.76,430 659.86,430 659.86,436.4 657.66,436.4 657.66,441.9 655.36,441.9 655.36,423.6 653.96,423.6 653.96,430.9 651.66,430.9 651.66,444.7 649.36,444.7 649.36,440.1 647.56,440.1 647.56,430 645.26,430 645.26,439.2 643.46,439.2 643.46,450.6 640.66,450.6 640.66,430 639.36,430 639.36,441 637.06,441 637.06,433.7 635.66,433.7 635.66,432.8 635.23,432.8 635.23,430 633.33,430 633.33,436.4 631.13,436.4 631.13,441.9 628.83,441.9 628.83,423.6 627.43,423.6 627.43,430.9 625.13,430.9 625.13,444.7 622.83,444.7 622.83,440.1 621.03,440.1 621.03,430 618.73,430 618.73,439.2 616.93,439.2 616.93,450.6 614.13,450.6 614.13,430 612.83,430 612.83,441 610.53,441 610.53,433.7 609.13,433.7 609.13,432.8 608.7,432.8 608.7,430 606.8,430 606.8,436.4 604.6,436.4 604.6,441.9 602.3,441.9 602.3,423.6 600.9,423.6 600.9,430.9 598.6,430.9 598.6,444.7 596.3,444.7 596.3,440.1 594.5,440.1 594.5,430 592.2,430 592.2,439.2 590.4,439.2 590.4,450.6 587.6,450.6 587.6,430 586.3,430 586.3,441 584,441 584,433.7 582.6,433.7 582.6,432.8 582.17,432.8 582.17,430 580.27,430 580.27,436.4 578.07,436.4 578.07,441.9 575.77,441.9 575.77,423.6 574.37,423.6 574.37,430.9 572.07,430.9 572.07,444.7 569.77,444.7 569.77,440.1 567.97,440.1 567.97,430 565.67,430 565.67,439.2 563.87,439.2 563.87,450.6 561.07,450.6 561.07,430 559.77,430 559.77,441 557.47,441 557.47,433.7 556.07,433.7 556.07,432.8 555.64,432.8 555.64,430 553.74,430 553.74,436.4 551.54,436.4 551.54,441.9 549.24,441.9 549.24,423.6 547.84,423.6 547.84,430.9 545.54,430.9 545.54,444.7 543.24,444.7 543.24,440.1 541.44,440.1 541.44,430 539.14,430 539.14,439.2 537.34,439.2 537.34,450.6 534.54,450.6 534.54,430 533.24,430 533.24,441 530.94,441 530.94,433.7 529.54,433.7 529.54,432.8 529.11,432.8 529.11,430 527.21,430 527.21,436.4 525.01,436.4 525.01,441.9 522.71,441.9 522.71,423.6 521.31,423.6 521.31,430.9 519.01,430.9 519.01,444.7 516.71,444.7 516.71,440.1 514.91,440.1 514.91,430 512.61,430 512.61,439.2 510.81,439.2 510.81,450.6 508.01,450.6 508.01,430 506.71,430 506.71,441 504.41,441 504.41,433.7 503.01,433.7 503.01,432.8 502.58,432.8 502.58,430 500.68,430 500.68,436.4 498.48,436.4 498.48,441.9 496.18,441.9 496.18,423.6 494.78,423.6 494.78,430.9 492.48,430.9 492.48,444.7 490.18,444.7 490.18,440.1 488.38,440.1 488.38,430 486.08,430 486.08,439.2 484.28,439.2 484.28,450.6 481.48,450.6 481.48,430 480.18,430 480.18,441 477.88,441 477.88,433.7 476.48,433.7 476.48,432.8 476.05,432.8 476.05,430 474.15,430 474.15,436.4 471.95,436.4 471.95,441.9 469.65,441.9 469.65,423.6 468.25,423.6 468.25,430.9 465.95,430.9 465.95,444.7 463.65,444.7 463.65,440.1 461.85,440.1 461.85,430 459.55,430 459.55,439.2 457.75,439.2 457.75,450.6 454.95,450.6 454.95,430 453.65,430 453.65,441 451.35,441 451.35,433.7 449.95,433.7 449.95,432.8 449.52,432.8 449.52,430 447.62,430 447.62,436.4 445.42,436.4 445.42,441.9 443.12,441.9 443.12,423.6 441.72,423.6 441.72,430.9 439.42,430.9 439.42,444.7 437.12,444.7 437.12,440.1 435.32,440.1 435.32,430 433.02,430 433.02,439.2 431.22,439.2 431.22,450.6 428.42,450.6 428.42,430 427.12,430 427.12,441 424.82,441 424.82,433.7 423.42,433.7 423.42,432.8 422.99,432.8 422.99,430 421.09,430 421.09,436.4 418.89,436.4 418.89,441.9 416.59,441.9 416.59,423.6 415.19,423.6 415.19,430.9 412.89,430.9 412.89,444.7 410.59,444.7 410.59,440.1 408.79,440.1 408.79,430 406.49,430 406.49,439.2 404.69,439.2 404.69,450.6 401.89,450.6 401.89,430 400.59,430 400.59,441 398.29,441 398.29,433.7 396.89,433.7 396.89,432.8 396.46,432.8 396.46,430 394.56,430 394.56,436.4 392.36,436.4 392.36,441.9 390.06,441.9 390.06,423.6 388.66,423.6 388.66,430.9 386.36,430.9 386.36,444.7 384.06,444.7 384.06,440.1 382.26,440.1 382.26,430 379.96,430 379.96,439.2 378.16,439.2 378.16,450.6 375.36,450.6 375.36,430 374.06,430 374.06,441 371.76,441 371.76,433.7 370.36,433.7 370.36,432.8 369.93,432.8 369.93,430 368.03,430 368.03,436.4 365.83,436.4 365.83,441.9 363.53,441.9 363.53,423.6 362.13,423.6 362.13,430.9 359.83,430.9 359.83,444.7 357.53,444.7 357.53,440.1 355.73,440.1 355.73,430 353.43,430 353.43,439.2 351.63,439.2 351.63,450.6 348.83,450.6 348.83,430 347.53,430 347.53,441 345.23,441 345.23,433.7 343.83,433.7 343.83,432.8 343.4,432.8 343.4,430 341.5,430 341.5,436.4 339.3,436.4 339.3,441.9 337,441.9 337,423.6 335.6,423.6 335.6,430.9 333.3,430.9 333.3,444.7 331,444.7 331,440.1 329.2,440.1 329.2,430 326.9,430 326.9,439.2 325.1,439.2 325.1,450.6 322.3,450.6 322.3,430 321,430 321,441 318.7,441 318.7,433.7 317.3,433.7 317.3,432.8 316.87,432.8 316.87,430 314.97,430 314.97,436.4 312.77,436.4 312.77,441.9 310.47,441.9 310.47,423.6 309.07,423.6 309.07,430.9 306.77,430.9 306.77,444.7 304.47,444.7 304.47,440.1 302.67,440.1 302.67,430 300.37,430 300.37,439.2 298.57,439.2 298.57,450.6 295.77,450.6 295.77,430 294.47,430 294.47,441 292.17,441 292.17,433.7 290.77,433.7 290.77,432.8 290.34,432.8 290.34,430 288.44,430 288.44,436.4 286.24,436.4 286.24,441.9 283.94,441.9 283.94,423.6 282.54,423.6 282.54,430.9 280.24,430.9 280.24,444.7 277.94,444.7 277.94,440.1 276.14,440.1 276.14,430 273.84,430 273.84,439.2 272.04,439.2 272.04,450.6 269.24,450.6 269.24,430 267.94,430 267.94,441 265.64,441 265.64,433.7 264.24,433.7 264.24,432.8 263.81,432.8 263.81,430 261.91,430 261.91,436.4 259.71,436.4 259.71,441.9 257.41,441.9 257.41,423.6 256.01,423.6 256.01,430.9 253.71,430.9 253.71,444.7 251.41,444.7 251.41,440.1 249.61,440.1 249.61,430 247.31,430 247.31,439.2 245.51,439.2 245.51,450.6 242.71,450.6 242.71,430 241.41,430 241.41,441 239.11,441 239.11,433.7 237.71,433.7 237.71,432.8 237.28,432.8 237.28,430 235.38,430 235.38,436.4 233.18,436.4 233.18,441.9 230.88,441.9 230.88,423.6 229.48,423.6 229.48,430.9 227.18,430.9 227.18,444.7 224.88,444.7 224.88,440.1 223.08,440.1 223.08,430 220.78,430 220.78,439.2 218.98,439.2 218.98,450.6 216.18,450.6 216.18,430 214.88,430 214.88,441 212.58,441 212.58,433.7 211.18,433.7 211.18,432.8 210.75,432.8 210.75,430 208.85,430 208.85,436.4 206.65,436.4 206.65,441.9 204.35,441.9 204.35,423.6 202.95,423.6 202.95,430.9 200.65,430.9 200.65,444.7 198.35,444.7 198.35,440.1 196.55,440.1 196.55,430 194.25,430 194.25,439.2 192.45,439.2 192.45,450.6 189.65,450.6 189.65,430 188.35,430 188.35,441 186.05,441 186.05,433.7 184.65,433.7 184.65,432.8 184.22,432.8 184.22,430 182.32,430 182.32,436.4 180.12,436.4 180.12,441.9 177.82,441.9 177.82,423.6 176.42,423.6 176.42,430.9 174.12,430.9 174.12,444.7 171.82,444.7 171.82,440.1 170.02,440.1 170.02,430 167.72,430 167.72,439.2 165.92,439.2 165.92,450.6 163.12,450.6 163.12,430 161.82,430 161.82,441 159.52,441 159.52,433.7 158.12,433.7 158.12,432.8 157.69,432.8 157.69,430 155.79,430 155.79,436.4 153.59,436.4 153.59,441.9 151.29,441.9 151.29,423.6 149.89,423.6 149.89,430.9 147.59,430.9 147.59,444.7 145.29,444.7 145.29,440.1 143.49,440.1 143.49,430 141.19,430 141.19,439.2 139.39,439.2 139.39,450.6 136.59,450.6 136.59,430 135.29,430 135.29,441 132.99,441 132.99,433.7 131.59,433.7 131.59,432.8 131.16,432.8 131.16,430 129.26,430 129.26,436.4 127.06,436.4 127.06,441.9 124.76,441.9 124.76,423.6 123.36,423.6 123.36,430.9 121.06,430.9 121.06,444.7 118.76,444.7 118.76,440.1 116.96,440.1 116.96,430 114.66,430 114.66,439.2 112.86,439.2 112.86,450.6 110.06,450.6 110.06,430 108.76,430 108.76,441 106.46,441 106.46,433.7 105.06,433.7 105.06,432.8 104.63,432.8 104.63,430 102.73,430 102.73,436.4 100.53,436.4 100.53,441.9 98.23,441.9 98.23,423.6 96.83,423.6 96.83,430.9 94.53,430.9 94.53,444.7 92.23,444.7 92.23,440.1 90.43,440.1 90.43,430 88.13,430 88.13,439.2 86.33,439.2 86.33,450.6 83.53,450.6 83.53,430 82.23,430 82.23,441 79.93,441 79.93,433.7 78.53,433.7 78.53,432.8 78.1,432.8 78.1,430 76.2,430 76.2,436.4 74,436.4 74,441.9 71.7,441.9 71.7,423.6 70.3,423.6 70.3,430.9 68,430.9 68,444.7 65.7,444.7 65.7,440.1 63.9,440.1 63.9,430 61.6,430 61.6,439.2 59.8,439.2 59.8,450.6 57,450.6 57,430 55.7,430 55.7,441 53.4,441 53.4,433.7 52,433.7 52,432.8 51.57,432.8 51.57,430 49.67,430 49.67,436.4 47.47,436.4 47.47,441.9 45.17,441.9 45.17,423.6 43.77,423.6 43.77,430.9 41.47,430.9 41.47,444.7 39.17,444.7 39.17,440.1 37.37,440.1 37.37,430 35.07,430 35.07,439.2 33.27,439.2 33.27,450.6 30.47,450.6 30.47,430 29.17,430 29.17,441 26.87,441 26.87,433.7 25.47,433.7 25.47,432.8 25.04,432.8 25.04,430 23.14,430 23.14,436.4 20.94,436.4 20.94,441.9 18.64,441.9 18.64,423.6 17.24,423.6 17.24,430.9 14.94,430.9 14.94,444.7 12.64,444.7 12.64,440.1 10.84,440.1 10.84,430 8.54,430 8.54,439.2 6.74,439.2 6.74,450.6 3.94,450.6 3.94,430 2.64,430 2.64,441 0.34,441 0.34,433.7 -1.06,433.7" fill="#1f77b4"/>
</g>
<path d="M45.9 344.1H684.2V456.6H45.9Z" fill="none" stroke="#000" stroke-width="1"/>
<path d="M46.4 456.6v3.5M100.48 456.6v3.5M151.07 456.6v3.5M205.15 456.6v3.5M257.48 456.6v3.5M311.56 456.6v3.5M363.9 456.6v3.5M417.98 456.6v3.5M472.06 456.6v3.5M524.39 456.6v3.5M578.47 456.6v3.5M630.81 456.6v3.5M684.2 456.6v3.5M55.12 456.6v2M67.33 456.6v2M79.55 456.6v2M91.76 456.6v2M103.97 456.6v2M116.18 456.6v2M128.39 456.6v2M140.6 456.6v2M152.81 456.6v2M165.03 456.6v2M177.24 456.6v2M189.45 456.6v2M201.66 456.6v2M213.87 456.6v2M226.08 456.6v2M238.29 456.6v2M250.51 456.6v2M262.72 456.6v2M274.93 456.6v2M287.14 456.6v2M299.35 456.6v2M311.56 456.6v2M323.78 456.6v2M335.99 456.6v2M348.2 456.6v2M360.41 456.6v2M372.62 456.6v2M384.83 456.6v2M397.04 456.6v2M409.26 456.6v2M421.47 456.6v2M433.68 456.6v2M445.89 456.6v2M458.1 456.6v2M470.31 456.6v2M482.52 456.6v2M494.74 456.6v2M506.95 456.6v2M519.16 456.6v2M531.37 456.6v2M543.58 456.6v2M555.79 456.6v2M568.01 456.6v2M580.22 456.6v2M592.43 456.6v2M604.64 456.6v2M616.85 456.6v2M629.06 456.6v2M641.27 456.6v2M653.49 456.6v2M665.7 456.6v2M677.91 456.6v2" stroke="#000" stroke-width="1" fill="none"/>
<g clip-path="url(#c3)">
<polygon points="58.4,578.6 59.2,578.6 59.4,576.1 63.8,576.1 64,574 65.4,574 65.6,577 66.6,577 66.8,573.2 67.8,573.2 68,576.1 70,576.1 70.2,567.7 73.4,567.7 73.6,575.3 76.2,575.3 76.4,563.5 78.4,563.5 78.6,578.6 80.4,578.6 80.6,575.3 86,575.3 86.2,560.6 87.6,560.6 87.8,574 90.2,574 90.4,569.8 92.6,569.8 92.8,573.2 98.2,573.2 98.4,570.6 100.2,570.6 100.4,577 100.8,577 101,578.7 103,578.7 103.2,573.6 105,573.6 105.2,576.1 108.2,576.1 108.4,523 110.4,523 110.6,550.9 112.8,550.9 113,559.9 115.2,559.9 115.4,580.7 116.4,580.7 116.6,572.3 118,572.3 118.2,576.8 120.4,576.8 120.6,517.8 122.6,517.8 122.8,565.8 123.6,565.8 123.8,523 125.2,523 125.4,554.7 127.8,554.7 128,577.4 130,577.4 130.2,574.9 132.2,574.9 132.4,555.4 134.8,555.4 135,563.2 137.4,563.2 137.6,556.5 140,556.5 140.2,572.5 143,572.5 143.2,570.4 144.4,570.4 144.6,559.5 145.8,559.5 146,550.4 147.6,550.4 147.8,537.2 149.6,537.2 149.8,547.5 151.4,547.5 151.6,572.7 154.8,572.7 155,578.4 156.4,578.4 156.6,573.8 157.6,573.8 157.8,556.7 159,556.7 159.2,570.4 160.2,570.4 160.4,530.9 162.2,530.9 162.4,545.8 164.2,545.8 164.4,570.4 166.2,570.4 166.4,575 174.2,575 174.4,572.1 176.6,572.1 176.8,576 178.8,576 179,574.4 180.6,574.4 180.8,577.3 184.8,577.3 185,578.5 185.6,578.57 185.8,578.65 187.4,578.82 187.6,576.34 189.2,576.51 189.4,576.58 190.8,576.73 191,577.47 192.6,577.65 192.8,578.72 194,578.86 194.2,579.06 194.4,579.26 194.6,576.65 194.8,576.85 195,577.05 195.2,577.25 195.4,577.45 195.6,577.65 195.8,577.85 196,578.05 196.2,578.05 196.4,580.74 197.8,580.74 198,580.95 199.6,580.95 199.8,581.21 201.4,581.21 201.6,577.75 203,577.75 203.2,581.32 203.4,581.07 203.6,580.82 203.8,580.57 204,580.32 204.2,580.07 204.4,579.82 204.6,579.57 204.8,579.32 205,575.48 206.6,575.47 206.8,576.52 208.4,576.51 208.6,577.65 210,577.64 210.2,578.93 211.8,578.92 212,576.49 213.6,576.48 213.8,578.94 215.4,578.93 215.6,577.33 217,577.33 217.2,576.35 220.6,576.35 220.8,575.76 222.2,575.75 222.4,575.34 224,575.33 224.2,575.62 225.8,575.62 226,577.88 227.6,577.88 227.8,579.17 229.2,579.16 229.4,575.65 231,575.64 231.2,575.17 232.8,575.16 233,579.1 234.4,579.09 234.6,577.19 236.2,577.18 236.4,576.64 238,576.63 238.2,575.92 239.8,575.91 240,577.41 241.4,577.4 241.6,578.38 243.2,578.37 243.4,576.81 245,576.8 245.2,576.66 246.8,576.65 247,575.11 248.4,575.11 248.6,578.72 250.2,578.71 250.4,575 252,574.99 252.2,576.92 253.6,576.92 253.8,578.36 255.4,578.36 255.6,575.38 257.2,575.37 257.4,577.9 259,577.89 259.2,578.8 260.6,578.8 260.8,577.45 262.4,577.45 262.6,578.11 264.2,578.1 264.4,575.24 265.8,575.23 266,576.6 267.6,576.6 267.8,575.4 269.4,575.39 269.6,578.31 271.2,578.3 271.4,575.99 272.8,575.98 273,576.65 274.6,576.64 274.8,578.93 276.4,578.92 276.6,578.3 278.2,578.29 278.4,578.81 279.8,578.81 280,576.61 281.6,576.6 281.8,576.75 283.4,576.74 283.6,577.75 285,577.74 285.2,576.69 286.8,576.68 287,575.89 288.6,575.88 288.8,576.35 290.4,576.35 290.6,575.26 292,575.26 292.2,576.22 293.8,576.22 294,578.78 295.6,578.77 295.8,578.65 297.2,578.65 297.4,577.25 299,577.24 299.2,576.7 300.8,576.6 301,575.9 302.6,575.7 302.8,574.62 303.6,574.52 303.8,559.4 305,559.4 305.2,575.09 306,574.99 306.2,577.11 307.8,576.91 308,577.24 309.6,577.04 309.8,574.89 311.2,574.72 311.4,576.48 313,576.28 313.2,576.2 314.8,576 315,572 315.8,572 316,569.9 318,569.9 318.2,561.2 320.4,561.2 320.6,553.8 322.4,553.8 322.6,565 324.2,565 324.4,555.9 326,555.9 326.2,572 328,572 328.2,575 330,575 330.2,566 331.6,566 331.8,556.8 333,556.8 333.2,555.9 334.6,555.9 334.8,562.9 336.8,562.9 337,582.2 339.4,582.2 339.6,578.7 342,578.7 342.2,559.4 344.4,559.4 344.6,564.7 346.6,564.7 346.8,563.8 348.6,563.8 348.8,578.7 350.4,578.7 350.6,582.2 352,582.2 352.2,567.3 353.6,567.3 353.8,505 355.2,505 355.4,504.5 356.6,504.5 356.8,504.7 358.2,504.7 358.4,528.7 360,528.7 360.2,537.5 361.6,537.5 361.8,541.9 363.6,541.9 363.8,536.6 365.2,536.6 365.4,535.7 367.4,535.7 367.6,539.2 370,539.2 370.2,535.7 372.2,535.7 372.4,536.6 374,536.6 374.2,554.1 375.8,554.1 376,548.9 378,548.9 378.2,540.1 380.2,540.1 380.4,541.9 382,541.9 382.2,551.5 383.6,551.5 383.8,554.1 385.4,554.1 385.6,550.6 387.6,550.6 387.8,542.7 389.8,542.7 390,538.4 391.6,538.4 391.8,523.4 393.4,523.4 393.6,539.2 395,539.2 395.2,555.9 399,555.9 399.2,552.4 401.6,552.4 401.8,546.2 403.8,546.2 404,568.2 406,568.2 406.2,559.4 408.2,559.4 408.4,571.7 410.8,571.7 411,579.6 414.4,579.6 414.6,571.7 417.8,571.7 418,572.6 421,572.6 421.2,567.3 423.6,567.3 423.8,577 427.2,577 427.4,575.2 430.6,575.2 430.8,573.4 432,573.4 432.2,575.67 433.4,575.68 433.6,575.59 435.2,575.61 435.4,574.13 436.8,574.14 437,576.94 438.6,576.95 438.8,573.16 440.4,573.18 440.6,574.88 442,574.89 442.2,574.36 443.8,574.37 444,574.93 444.4,574.93 444.6,569.9 446.4,569.9 446.6,573.71 447.4,573.72 447.6,576.73 449,576.74 449.2,574.82 450.8,574.83 451,573.42 452.6,573.43 452.8,575.86 454.4,575.87 454.6,573.69 455,573.7 455.2,569.1 457,569.1 457.2,575.61 457.8,575.61 458,574.75 459.6,574.76 459.8,575.78 461.2,575.79 461.4,577.38 463,577.39 463.2,576.81 464.8,576.82 465,575.14 466.6,575.16 466.8,576.81 468.2,576.83 468.4,576.11 468.6,576.11 468.8,568.2 470.8,568.2 471,574.99 471.8,574.99 472,574.04 473.4,574.05 473.6,575.96 475.2,575.98 475.4,575.84 477,575.86 477.2,577.51 479.2,577.57 479.4,564.3 481.2,564.3 481.4,576.08 482.2,576.09 482.4,575.01 484,575.02 484.2,577.3 485.8,577.32 486,573.57 487.4,573.58 487.6,574.03 489.2,574.05 489.4,568.2 491.2,568.2 491.4,576.21 491.8,576.22 492,560.3 493.8,560.3 494,574.27 494.4,574.27 494.6,576.33 496.2,576.36 496.4,577.46 497.8,577.49 498,571.7 502,571.7 502.2,574.78 503.2,574.8 503.4,575.08 504.8,575.1 505,577.97 506.6,578 506.8,575.51 508.4,575.54 508.6,577.99 510.2,578.02 510.4,577.82 511.8,577.85 512,576.51 513.6,576.54 513.8,575.14 515.4,575.17 515.6,569.9 517.6,569.9 517.8,576.21 518.8,576.22 519,575.89 520.6,575.92 520.8,575.52 522.4,575.55 522.6,578.35 524,578.37 524.2,576.31 525,576.32 525.2,571.7 527.2,571.7 527.4,572.6 529.4,572.6 529.6,574.85 531,574.88 531.2,576.98 532.8,577.01 533,576.27 534.6,576.3 534.8,575.67 536.2,575.7 536.4,577.75 538,577.78 538.2,577.98 538.4,569.1 540.4,569.1 540.6,574.6 540.8,541 542.2,541 542.4,576.82 543.2,576.83 543.4,575.75 545,575.78 545.2,578.56 546.8,578.59 547,577.95 548.6,577.98 548.8,575.73 550.2,575.76 550.4,575.86 552,575.89 552.2,575.42 552.4,566.4 554.2,566.4 554.4,578.96 555.4,578.98 555.6,576.06 557.2,576.09 557.4,577.42 559,577.45 559.2,576.89 560.8,576.92 561,577.64 562.4,577.67 562.6,577.5 564.2,577.53 564.4,578.12 564.6,578.12 564.8,566.4 566.8,566.4 567,575.54 567.6,575.55 567.8,578.25 569.4,578.28 569.6,576.36 571.2,576.36 571.4,577.34 573,577.34 573.2,576.51 574.6,576.51 574.8,563.8 576.8,563.8 577,577.33 577.4,577.33 577.6,546.2 579,546.2 579.2,577.05 580,577.05 580.2,576.62 581.6,576.62 581.8,578.23 583.4,578.23 583.6,577.58 585.2,577.58 585.4,575.25 586.8,575.25 587,570.8 589,570.8 589.2,577.01 590.4,577.01 590.6,578.95 592.2,578.95 592.4,578.83 593.8,578.83 594,577.39 595.6,577.39 595.8,575.16 597.4,575.16 597.6,578.37 599,578.37 599.2,576.9 599.4,572.6 601.2,572.6 601.4,577.52 602.6,577.52 602.8,578.07 604.4,578.07 604.6,577.76 606,577.76 606.2,577.12 607.8,577.12 608,578.93 609.6,578.93 609.8,576.72 613,576.75 613.2,578.68 614.8,578.68 615,575.93 616.6,575.93 616.8,576.35 618.2,576.35 618.4,578.59 620,578.59 620.2,575.38 621.8,575.38 622,578.61 623.6,578.61 623.8,578.02 625.2,578.02 625.4,576.92 626.8,576.92 627,559.5 629.2,559.5 629.4,578.38 630.4,578.38 630.6,578.92 632.2,578.92 632.4,575.7 634,575.7 634.2,577.11 635.4,577.11 635.6,570 637.6,570 637.8,577.19 639.2,577.19 639.4,576.49 641,576.49 641.2,575.74 642.8,575.74 643,577.56 644.4,577.56 644.6,578.51 646.2,578.51 646.4,575.39 648,575.39 648.2,576.07 648.4,566.5 652.6,566.5 652.8,578.43 653.2,578.43 653.4,577.89 655,577.89 655.2,575.21 656.6,575.21 656.8,578.13 658.4,578.13 658.6,579.21 660.2,579.21 660.4,579.29 660.6,564.8 661.8,564.8 662,559.5 663.8,559.5 664,575.31 665.4,575.31 665.6,578.64 667,578.64 667.2,562.1 669,562.1 669.2,551.6 670.8,551.6 671,579.1 671.4,579.1 671.4,586.25 670.8,586.25 670.6,586.6 669,586.6 668.8,586.87 667.4,586.87 667.2,586.46 665.6,586.47 665.4,587.03 663.8,587.03 663.6,587.19 662,587.2 661.8,586.42 660.4,586.42 660.2,586.65 658.6,586.65 658.4,584.81 656.8,584.82 656.6,586.55 655.2,586.56 655,585.36 653.4,585.37 653.2,587.13 651.6,587.14 651.4,585.46 649.8,585.46 649.6,586.56 648.2,586.56 648,586.68 646.4,586.69 646.2,586.2 644.6,586.2 644.4,585.6 643,585.6 642.8,584.88 639.4,584.85 639.2,585.41 637.6,585.41 637.4,586.06 636,586.06 635.8,586.48 634.2,586.49 634,586.26 632.4,586.26 632.2,585.63 630.6,585.64 630.4,586.81 629,586.82 628.8,586.11 627.2,586.11 627,586.47 625.4,586.47 625.2,586.54 623.8,586.54 623.6,587.16 622,587.16 621.8,586.87 620.2,586.87 620,587.32 618.4,587.33 618.2,585.75 616.8,585.75 616.6,586.58 615,586.58 614.8,585.96 613.2,585.97 613,585.72 611.6,585.72 611.4,585.53 609.8,585.53 609.6,584.76 608,584.76 607.8,585.55 606.2,585.55 606,585.74 604.6,585.74 604.4,585.19 602.8,585.19 602.6,586.28 601,586.28 600.8,586.08 599.2,586.08 599,584.72 597.6,584.71 597.4,585.69 595.8,585.68 595.6,586.82 594,586.81 593.8,586.33 592.4,586.32 592.2,586.97 590.6,586.95 590.4,586.46 588.8,586.45 588.6,585.48 587,585.47 586.8,586.74 585.4,586.73 585.2,585.11 583.6,585.1 583.4,586.99 581.8,586.98 581.6,586.48 580.2,586.47 580,584.8 578.4,584.79 578.2,584.98 576.6,584.96 576.4,584.61 574.8,584.59 574.6,585.81 573.2,585.8 573,586.72 571.4,586.71 571.2,584.85 569.6,584.83 569.4,585.53 567.8,585.51 567.6,586.1 566.2,586.09 566,586.71 562.6,586.66 562.4,587.04 561,587.03 560.8,585.04 559.2,585.03 559,585.31 557.4,585.29 557.2,585 555.6,584.98 555.4,586.36 554,586.34 553.8,585.28 552.2,585.27 552,585.82 550.4,585.81 550.2,584.83 548.8,584.82 548.6,585.02 547,585.01 546.8,584.84 545.2,584.83 545,585.3 543.4,585.29 543.2,586.61 541.8,586.6 541.6,585.51 540,585.5 539.8,585.79 538.2,586.06 538,584.62 536.4,584.89 536.2,587.47 534.8,587.71 534.6,585.24 533,585.51 532.8,586.53 531.2,586.8 531,587.9 529.6,588.13 529.4,586.25 527.8,586.48 527.6,587.81 526,587.81 525.8,588.82 524.2,588.82 524,587.64 522.6,587.64 522.4,588.73 520.8,588.73 520.6,588.27 519,588.27 518.8,587.39 515.6,587.37 515.4,587.44 513.8,587.44 513.6,588.67 512,588.67 511.8,587.06 510.4,587.06 510.2,586.52 508.6,586.52 508.4,588.35 506.8,588.35 506.6,588.73 505,588.73 504.8,587.4 503.4,587.4 503.2,588.12 501.6,588.12 501.4,586.66 499.8,586.66 499.6,587.63 498.2,587.63 498,586.46 496.4,586.46 496.2,588.16 494.6,588.16 494.4,588.43 492.8,588.43 492.6,587.78 491.2,587.78 491,586.23 489.4,586.23 489.2,587.09 487.6,587.09 487.4,587.18 486,587.18 485.8,587.36 484.2,587.36 484,586.82 482.4,586.82 482.2,587.85 480.6,587.85 480.4,588.76 479,588.76 478.8,588.52 477.2,588.52 477,587.16 475.4,587.16 475.2,586.55 473.6,586.55 473.4,586.34 472,586.34 471.8,586.27 470.2,586.27 470,587.7 468.4,587.7 468.2,588.26 466.8,588.26 466.6,586.37 465,586.37 464.8,586.97 463.2,586.97 463,588.02 461.4,588.02 461.2,586.91 459.8,586.91 459.6,586.66 458,586.66 457.8,586.38 456.2,586.38 456,586.55 454.6,586.55 454.4,587.23 452.8,587.23 452.6,588.39 451,588.39 450.8,586.92 449.2,586.92 449,588.09 447.6,588.09 447.4,588.17 445.8,588.17 445.6,588.78 444,588.78 443.8,587.97 442.2,587.97 442,588.41 440.6,588.41 440.4,587.39 440,587.39 439.8,587.26 439.6,587.13 439.4,587 439.2,586.86 439,586.73 438.8,586.6 438.6,586.82 438.4,586.69 438.2,586.56 438,586.43 437.8,586.29 437.6,586.16 437.4,586.03 437.2,585.9 437,585.76 436.8,586.13 436.6,586 436.4,585.87 436.2,585.73 436,585.6 435.8,585.47 435.6,585.34 435.4,585.2 435.2,584.79 435,584.65 434.8,584.52 434.6,584.39 434.4,584.26 434.2,584.12 434,583.99 433.8,583.86 433.6,583.73 433.4,584.25 433.2,584.11 433,583.98 432.8,583.85 432.6,583.72 432.4,583.58 432.2,583.45 432,583.32 431.8,583.53 431.6,582.83 431.4,583.04 431.2,583.25 431,583.46 430.8,583.67 430.6,583.89 430.4,584.1 430.2,584.31 430,584.52 429.8,585.26 429.6,585.48 429.4,585.69 429.2,585.9 429,586.11 428.8,586.32 428.6,586.54 428.4,586.75 428.2,585.78 428,585.99 427.8,586.2 427.6,586.41 427.4,586.62 427.2,586.84 427,587.05 426.8,586.93 426.6,586.81 426.4,586.97 426.2,586.85 426,586.73 425.8,586.61 425.6,586.49 425.4,586.37 425.2,586.25 425,586.13 424.8,586.01 424.6,585.02 424.4,584.9 424.2,584.78 424,584.66 423.8,584.54 423.6,584.42 423.4,584.3 423.2,584.18 423,584.8 422.8,584.68 422.6,584.56 422.4,584.44 422.2,584.32 422,584.2 421.8,584.07 421.6,583.95 421.4,583.83 421.2,583.48 421,583.36 420.8,583.24 420.6,583.11 420.4,582.99 420.2,582.87 420,582.75 419.8,582.63 419.6,582.6 419.4,582.43 419.2,582.49 419,582.55 418.8,582.61 418.6,582.67 418.4,582.73 418.2,582.79 418,582.85 417.8,582.91 417.6,582.56 417.4,582.62 417.2,582.68 417,582.73 416.8,582.79 416.6,582.85 416.4,582.91 416.2,582.97 416,584.8 415.8,584.85 415.6,584.91 415.4,584.97 415.2,585.03 415,585.09 414.8,585.15 414.6,585.21 414.4,585.27 414.2,583.61 414,583.67 413.8,583.84 413.6,584.02 413.4,584.19 413.2,584.37 413,584.55 412.8,584.72 412.6,584.9 412.4,585.57 412.2,585.75 412,585.92 411.8,586.1 411.6,586.27 411.4,586.45 411.2,586.63 411,586.8 410.8,586.98 410.6,588.05 410.4,588.23 410.2,588.4 410,588.58 409.8,588.75 409.6,588.93 409.4,589.11 409.2,589.28 409,589.06 408.8,589.14 408.6,589.23 408.4,589.32 408.2,589.41 408,589.49 407.8,589.58 407.6,589.67 407.4,589.76 407.2,588.92 407,589 406.8,589.09 406.6,589.18 406.4,589.27 406.2,589.35 406,589.44 405.8,589.53 405.6,589.62 405.4,590.14 405.2,590.22 405,590.31 404.8,590.4 404.6,590.49 404.4,590.57 404.2,590.66 404,590.75 403.8,590.4 403.6,590.48 403.4,590.57 403.2,590.66 403,590.75 402.8,590.83 402.6,590.92 402.4,591.01 402.2,591.1 402,591.31 401.8,591.4 401.6,591.49 401.4,591.58 401.2,591.66 401,591.75 400.8,591.96 400.6,592.17 400.4,592.39 400.2,593.09 400,593.3 399.8,593.52 399.6,593.73 399.4,593.94 399.2,594.15 399,594.36 398.8,594.58 398.6,594.79 398.4,596.37 398.2,596.58 398,596.79 397.8,597 397.6,597.22 397.4,597.43 397.2,597.64 397,597.85 396.8,597.94 396.6,598.15 396.4,598.36 396.2,598.57 396,598.79 395.8,598.89 395.6,598.99 395.4,599.09 395.2,599.2 395,597.45 394.8,597.55 394.6,597.66 394.4,597.76 394.2,597.86 394,597.97 393.8,598.07 393.6,598.17 393.4,598.27 393.2,598.98 393,599.08 392.8,599.19 392.6,599.29 392.4,599.42 392.2,599.57 392,599.73 391.8,599.89 391.6,600.04 391.4,599.67 391.2,599.82 391,599.98 390.8,600.13 390.6,600.29 390.4,600.45 390.2,600.6 390,600.76 389.8,601.2 389.6,601.36 389.4,601.52 389.2,601.67 389,601.83 388.8,601.98 388.6,602.14 388.4,602.29 388.2,602.45 388,604.23 387.8,604.36 387.6,604.49 387.4,604.62 387.2,604.75 387,604.88 386.8,605.01 386.6,605.14 386.4,605.27 386.2,604.38 386,604.51 385.8,604.64 385.6,604.77 385.4,604.9 385.2,605.03 385,605.16 384.8,605.29 384.6,605.04 384.4,605.17 384.2,605.3 384,605.43 383,605.43 382.8,607.07 381.2,607.07 381,606.56 379.6,606.56 379.4,605.68 379.2,603.65 379,601.89 378.8,600.13 378.6,598.37 378.4,598.28 378.2,599.86 378,601.44 377.8,603.02 377.6,603.93 377.4,604.72 376,604.72 375.8,605.24 374.2,605.24 374,605.01 372.6,605.01 372.4,605.16 370.8,605.16 370.6,603.75 369,603.75 368.8,604.28 367.2,604.28 367,606.01 365.6,606.01 365.4,605.32 363.8,605.32 363.6,606.19 362,606.19 361.8,605.16 360.2,605.16 360,603.99 358.6,603.99 358.4,604.55 358,604.55 357.8,604.34 357.6,604.13 357.4,603.92 357.2,603.71 357,603.5 356.8,603.29 356.6,602.47 356.4,602.26 356.2,602.05 356,601.84 355.8,601.63 355.6,601.42 355.4,601.21 355.2,601 355,600.79 354.8,601.79 354.6,601.58 354.4,601.37 354.2,601.16 354,600.96 353.8,600.75 353.6,600.54 353.4,600.33 353.2,599.77 353,599.56 352.8,599.35 352.6,599.14 352.4,598.94 352.2,598.73 352,598.52 351.8,598.31 351.6,598.1 351.4,598.18 351.2,597.84 351,597.38 350.8,596.92 350.6,596.46 350.4,596 350.2,595.54 350,595.08 349.8,594.62 349.6,593.27 349.4,592.81 349.2,592.35 349,591.88 348,591.88 347.8,594.02 346.4,594.02 346.2,591.5 342.8,591.54 342.6,592.23 341.2,592.23 341,592.5 340,592.5 339.8,592.38 339.6,592.27 339.4,592.15 339.2,591.63 339,591.51 338.8,591.4 338.6,591.28 338.4,591.17 338.2,591.05 338,590.93 337.8,590.82 337.6,590.7 337.4,590.06 337.2,589.94 337,589.83 336.8,589.71 336.6,589.6 336.4,589.48 336.2,589.37 336,589.25 335.8,589.14 335.6,589.93 335.4,589.87 334.2,589.84 334,588.89 332.4,588.85 332.2,589.36 332,589.36 331.8,589.26 331.6,589.16 331.4,589.07 331.2,588.97 331,588.87 330.8,588.77 330.6,588.68 330.4,588.07 330.2,587.97 330,587.87 329.8,587.78 329.6,587.68 329.4,587.58 329.2,587.49 329,587.39 328.8,587.29 328.6,589.58 328.4,589.48 328.2,589.38 328,589.28 327.8,589.19 327.6,589.09 327.4,588.99 327.2,588.9 327,587.6 326.8,587.5 326.6,587.4 326.4,587.31 326.2,587.21 326,587.11 325.8,587.01 325.6,586.92 325.4,586.82 325.2,587.82 325,587.73 324.8,587.67 324.6,587.61 324.4,587.55 324.2,587.5 324,587.44 323.8,587.38 323.6,587.32 323.4,585.03 323.2,584.97 323,584.91 322.8,584.86 322.6,584.8 322.4,584.74 322.2,584.68 322,584.63 321.8,584.63 321.6,584.57 321.4,584.51 321.2,584.46 321,584.4 320.8,584.34 320.6,584.28 320.4,584.22 320.2,584.17 320,584.8 319.8,584.74 319.6,584.69 319.4,584.63 319.2,584.57 319,584.51 318.8,584.45 318.6,584.4 318.4,584.34 318.2,584.74 318,584.68 317.8,584.62 317.6,584.56 317.4,584.51 317.2,584.45 317,584.39 316.8,584.33 316.6,584.27 316.4,585.49 316.2,585.43 316,585.37 315,585.6 314.8,584.46 313.2,584.83 313,583.52 311.8,583.8 311.6,588.75 311.4,598.62 311.2,599.61 309.8,599.61 309.6,600.6 308.8,600.6 308.6,590.74 308.4,585.8 308,585.8 307.8,583.86 306.2,583.86 306,583.72 304.4,583.72 304.2,586.33 302.8,586.33 302.6,584.86 301,584.85 300.8,585.44 299.2,585.43 299,586.23 297.4,586.22 297.2,585.5 295.8,585.5 295.6,584.33 294,584.33 293.8,584.12 292.2,584.12 292,585.61 288.8,585.64 288.6,584.43 287,584.43 286.8,584.93 285.2,584.92 285,584.5 283.6,584.5 283.4,584.64 281.8,584.64 281.6,586.28 280,586.28 279.8,584.73 278.4,584.73 278.2,583.86 276.6,583.85 276.4,584.27 274.8,584.26 274.6,583.71 273,583.7 272.8,584.18 271.4,584.18 271.2,584.07 269.6,584.07 269.4,585.6 267.8,585.59 267.6,585.45 266,585.44 265.8,584.41 264.4,584.4 264.2,585.42 262.6,585.42 262.4,583.93 260.8,583.93 260.6,586.16 259.2,586.16 259,584.88 257.4,584.88 257.2,585.42 253.8,585.45 253.6,586.13 252.2,586.13 252,584.59 250.4,584.59 250.2,586.09 248.6,586.08 248.4,583.67 247,583.67 246.8,584.89 245.2,584.88 245,584.21 243.4,584.21 243.2,584.35 241.6,584.35 241.4,584.01 240,584.01 239.8,584.32 238.2,584.32 238,584.25 236.4,584.25 236.2,583.97 234.6,583.97 234.4,585.94 233,585.93 232.8,584.6 229.4,584.56 229.2,583.98 226,583.96 225.8,583.81 224.2,583.81 224,584.8 222.4,584.79 222.2,584.69 220.8,584.69 220.6,585.2 219,585.2 218.8,585.93 217.2,585.93 217,584.79 215.6,584.79 215.4,583.52 213.8,583.52 213.6,585.57 212,585.57 211.8,584.81 210.2,584.81 210,585.91 208.6,585.91 208.4,583.61 206.8,583.61 206.6,584.05 205,584.05 204.8,583.66 204.6,583.73 204.4,583.81 204.2,583.88 204,583.95 203.8,584.02 203.6,584.09 203.4,584.17 203.2,584.24 203,584.48 202.8,584.55 202.6,584.63 202.4,584.7 202.2,584.77 202,584.84 201.8,584.91 201.6,584.99 201.4,585.86 201.2,585.94 201,586.01 200.8,586.08 200.6,586.15 200.4,586.22 200.2,586.3 200,586.37 199.8,586.37 199.6,587.3 198,587.29 197.8,586.83 196.4,586.82 196.2,586.87 194.6,586.86 194.4,586.66 192.8,586.65 192.6,587.55 191,587.54 190.8,586.41 189.4,586.4 189.2,587.4 187.6,587.39 187.4,586.97 185.8,586.95 185.6,587.45 184.2,587.44 184,585.56 182.4,585.55 182.2,586.22 180.6,586.21 180.4,586.11 178.8,586.1 178.6,586.81 177.2,586.81 177,586.05 175.4,586.04 175.2,585.77 173.6,585.76 173.4,586.08 171.8,586.07 171.6,586.8 170.2,586.79 170,585.48 169.8,585.66 169.6,585.84 169.4,586.02 169.2,586.2 169,586.38 168.8,586.56 168.6,586.74 168.4,586.92 168.2,588.94 168,589.12 166.6,589.12 166.4,588.7 165,588.7 164.8,589.53 163.2,589.53 163,587.21 161.4,587.21 161.2,587.5 159.6,587.5 159.4,588.74 158,588.74 157.8,589.47 156.2,589.47 156,587.31 155.8,587.65 155.6,587.99 155.4,588.33 155.2,588.67 155,589.01 154.4,589.01 154.2,588.74 152.8,588.74 152.6,590.56 151,590.56 150.8,588.68 150,588.68 149.8,588.22 149.6,587.76 149.4,587.3 149.2,586.84 149,588.45 147.4,588.45 147.2,587.17 145.8,587.17 145.6,587.6 144,587.6 143.8,588.67 142.2,588.67 142,586.94 140.4,586.94 140.2,587.9 138.8,587.89 138.6,586.62 137,586.59 136.8,586.5 135.2,586.47 135,588.03 133.6,588.01 133.4,586.43 131.8,586.41 131.6,587.94 130,587.92 129.8,588.07 128.2,588.05 128,586.6 126.6,586.58 126.4,588.09 124.8,588.06 124.6,587.07 123,587.05 122.8,586.67 121.4,586.65 121.2,586.38 119.6,586.36 119.4,587.39 117.8,587.36 117.6,587.99 116,587.97 115.8,586.62 114.4,586.6 114.2,587.4 112.6,587.38 112.4,586.6 110.8,586.57 110.6,587.54 109,587.51 108.8,587.33 107.4,587.31 107.2,588.27 105.6,588.24 105.4,587.15 103.8,587.12 103.6,587.46 102.2,587.44 102,586.14 100.4,586.11 100.2,587.59 98.6,587.44 98.4,585.69 96.8,585.53 96.6,586.37 95.2,586.23 95,587.73 93.4,587.57 93.2,586.34 91.6,586.18 91.4,586.46 90,586.32 89.8,585.56 88.2,585.61 88,585.93 86.4,585.99 86.2,585.19 84.6,585.24 84.4,587.26 83,587.31 82.8,586.94 81.2,587 81,586.55 79.4,586.61 79.2,585.22 76,585.36 75.8,586.2 74.2,586.12 74,585.36 72.4,585.15 72.2,584.94 70.8,584.76 70.6,586.29 69,586.08 68.8,584.81 67.2,584.6 67,585.25 65.4,585.04 65.2,585.54 63.8,585.36 63.6,584.08 62,583.87 61.8,585.92 60.2,585.71 60,583.99 59.8,583.68 59.6,583.36 59.4,583.05 59.2,582.74 59,582.43 58.8,582.11 58.6,581.8 58.4,581.49" fill="#1f77b4"/>
</g>
<path d="M45.9 499.5H684.2V612.3H45.9Z" fill="none" stroke="#000" stroke-width="1"/>
<path d="M46.4 612.3v3.5M100.48 612.3v3.5M151.07 612.3v3.5M205.15 612.3v3.5M257.48 612.3v3.5M311.56 612.3v3.5M363.9 612.3v3.5M417.98 612.3v3.5M472.06 612.3v3.5M524.39 612.3v3.5M578.47 612.3v3.5M630.81 612.3v3.5M684.2 612.3v3.5M55.12 612.3v2M67.33 612.3v2M79.55 612.3v2M91.76 612.3v2M103.97 612.3v2M116.18 612.3v2M128.39 612.3v2M140.6 612.3v2M152.81 612.3v2M165.03 612.3v2M177.24 612.3v2M189.45 612.3v2M201.66 612.3v2M213.87 612.3v2M226.08 612.3v2M238.29 612.3v2M250.51 612.3v2M262.72 612.3v2M274.93 612.3v2M287.14 612.3v2M299.35 612.3v2M311.56 612.3v2M323.78 612.3v2M335.99 612.3v2M348.2 612.3v2M360.41 612.3v2M372.62 612.3v2M384.83 612.3v2M397.04 612.3v2M409.26 612.3v2M421.47 612.3v2M433.68 612.3v2M445.89 612.3v2M458.1 612.3v2M470.31 612.3v2M482.52 612.3v2M494.74 612.3v2M506.95 612.3v2M519.16 612.3v2M531.37 612.3v2M543.58 612.3v2M555.79 612.3v2M568.01 612.3v2M580.22 612.3v2M592.43 612.3v2M604.64 612.3v2M616.85 612.3v2M629.06 612.3v2M641.27 612.3v2M653.49 612.3v2M665.7 612.3v2M677.91 612.3v2" stroke="#000" stroke-width="1" fill="none"/>
<path d="M45.9 41.2h-3.5M45.9 82.9h-3.5M45.9 124.6h-3.5" stroke="#000" stroke-width="1" fill="none"/>
<path d="M45.9 204.2h-3.5M45.9 240.4h-3.5M45.9 276.4h-3.5" stroke="#000" stroke-width="1" fill="none"/>
<path d="M45.9 368.8h-3.5M45.9 412.85h-3.5M45.9 456.9h-3.5" stroke="#000" stroke-width="1" fill="none"/>
<path d="M45.9 515.8h-3.5M45.9 548.6h-3.5M45.9 581.4h-3.5" stroke="#000" stroke-width="1" fill="none"/>
<g class="tx">
<text x="37.9" y="45.16" font-size="12.5" text-anchor="end" textLength="11.88" lengthAdjust="spacingAndGlyphs" style="fill:#000">60</text>
<text x="37.1" y="87.54" font-size="12.5" text-anchor="end" textLength="11.16" lengthAdjust="spacingAndGlyphs" style="fill:#000">40</text>
<text x="37.9" y="130.29" font-size="12.5" text-anchor="end" textLength="11.88" lengthAdjust="spacingAndGlyphs" style="fill:#000">20</text>
<text x="37.9" y="209.35" font-size="12.5" text-anchor="end" textLength="11.88" lengthAdjust="spacingAndGlyphs" style="fill:#000">30</text>
<text x="37.3" y="245.03" font-size="12.5" text-anchor="end" textLength="10.77" lengthAdjust="spacingAndGlyphs" style="fill:#000">25</text>
<text x="37.9" y="280.54" font-size="12.5" text-anchor="end" textLength="11.88" lengthAdjust="spacingAndGlyphs" style="fill:#000">20</text>
<text x="36.45" y="374.45" font-size="12.5" text-anchor="end" textLength="20.34" lengthAdjust="spacingAndGlyphs" style="fill:#000">1.05</text>
<text x="36.45" y="417.23" font-size="12.5" text-anchor="end" textLength="21.95" lengthAdjust="spacingAndGlyphs" style="fill:#000">1.00</text>
<text x="37.4" y="461.23" font-size="12.5" text-anchor="end" textLength="21.25" lengthAdjust="spacingAndGlyphs" style="fill:#000">0.95</text>
<text x="37.5" y="521.45" font-size="12.5" text-anchor="end" textLength="14.31" lengthAdjust="spacingAndGlyphs" style="fill:#000">2.0</text>
<text x="36.8" y="553.16" font-size="12.5" text-anchor="end" textLength="14.84" lengthAdjust="spacingAndGlyphs" style="fill:#000">1.5</text>
<text x="37.1" y="585.97" font-size="12.5" text-anchor="end" textLength="15.05" lengthAdjust="spacingAndGlyphs" style="fill:#000">1.0</text>
<text x="46.1" y="628.64" font-size="11" text-anchor="middle" textLength="15.21" lengthAdjust="spacingAndGlyphs" style="fill:#000">Jan</text>
<text x="100.43" y="628.61" font-size="11" text-anchor="middle" textLength="18.85" lengthAdjust="spacingAndGlyphs" style="fill:#000">Feb</text>
<text x="150.72" y="628.61" font-size="11" text-anchor="middle" textLength="18.97" lengthAdjust="spacingAndGlyphs" style="fill:#000">Mar</text>
<text x="205.15" y="628.4" font-size="11" text-anchor="middle" textLength="17.3" lengthAdjust="spacingAndGlyphs" style="fill:#000">Apr</text>
<text x="257.48" y="628.4" font-size="11" text-anchor="middle" textLength="20.68" lengthAdjust="spacingAndGlyphs" style="fill:#000">May</text>
<text x="311.56" y="628.4" font-size="11" text-anchor="middle" textLength="15.62" lengthAdjust="spacingAndGlyphs" style="fill:#000">Jun</text>
<text x="363.9" y="628.4" font-size="11" text-anchor="middle" textLength="12.07" lengthAdjust="spacingAndGlyphs" style="fill:#000">Jul</text>
<text x="417.98" y="628.4" font-size="11" text-anchor="middle" textLength="19.53" lengthAdjust="spacingAndGlyphs" style="fill:#000">Aug</text>
<text x="472.06" y="628.4" font-size="11" text-anchor="middle" textLength="18.85" lengthAdjust="spacingAndGlyphs" style="fill:#000">Sep</text>
<text x="524.39" y="628.4" font-size="11" text-anchor="middle" textLength="17.29" lengthAdjust="spacingAndGlyphs" style="fill:#000">Oct</text>
<text x="578.47" y="628.4" font-size="11" text-anchor="middle" textLength="19.52" lengthAdjust="spacingAndGlyphs" style="fill:#000">Nov</text>
<text x="630.81" y="628.4" font-size="11" text-anchor="middle" textLength="19.35" lengthAdjust="spacingAndGlyphs" style="fill:#000">Dec</text>
<text x="46.4" y="640.22" font-size="11" text-anchor="middle" textLength="24.64" lengthAdjust="spacingAndGlyphs" style="fill:#000">2020</text>
<text x="365.35" y="653.54" font-size="11" text-anchor="middle" textLength="32.07" lengthAdjust="spacingAndGlyphs" style="fill:#000">Month</text>
<text transform="translate(18.2 89.82) rotate(-90)" font-size="11" text-anchor="middle" textLength="48.73" lengthAdjust="spacingAndGlyphs" style="fill:#000">Observed</text>
<text transform="translate(17.8 244.34) rotate(-90)" font-size="11" text-anchor="middle" textLength="27.57" lengthAdjust="spacingAndGlyphs" style="fill:#000">Trend</text>
<text transform="translate(8.9 401.76) rotate(-90)" font-size="11" text-anchor="middle" textLength="46.13" lengthAdjust="spacingAndGlyphs" style="fill:#000">Seasonal</text>
<text transform="translate(15.3 558.22) rotate(-90)" font-size="11" text-anchor="middle" textLength="44.6" lengthAdjust="spacingAndGlyphs" style="fill:#000">Residual</text>
<text x="343.5" y="17.35" font-size="22.18" text-anchor="middle" textLength="143.21" lengthAdjust="spacingAndGlyphs" style="fill:#2a2a2a;stroke:none">Atlanta (2020)</text>
</g>
</g></svg></body></html>
